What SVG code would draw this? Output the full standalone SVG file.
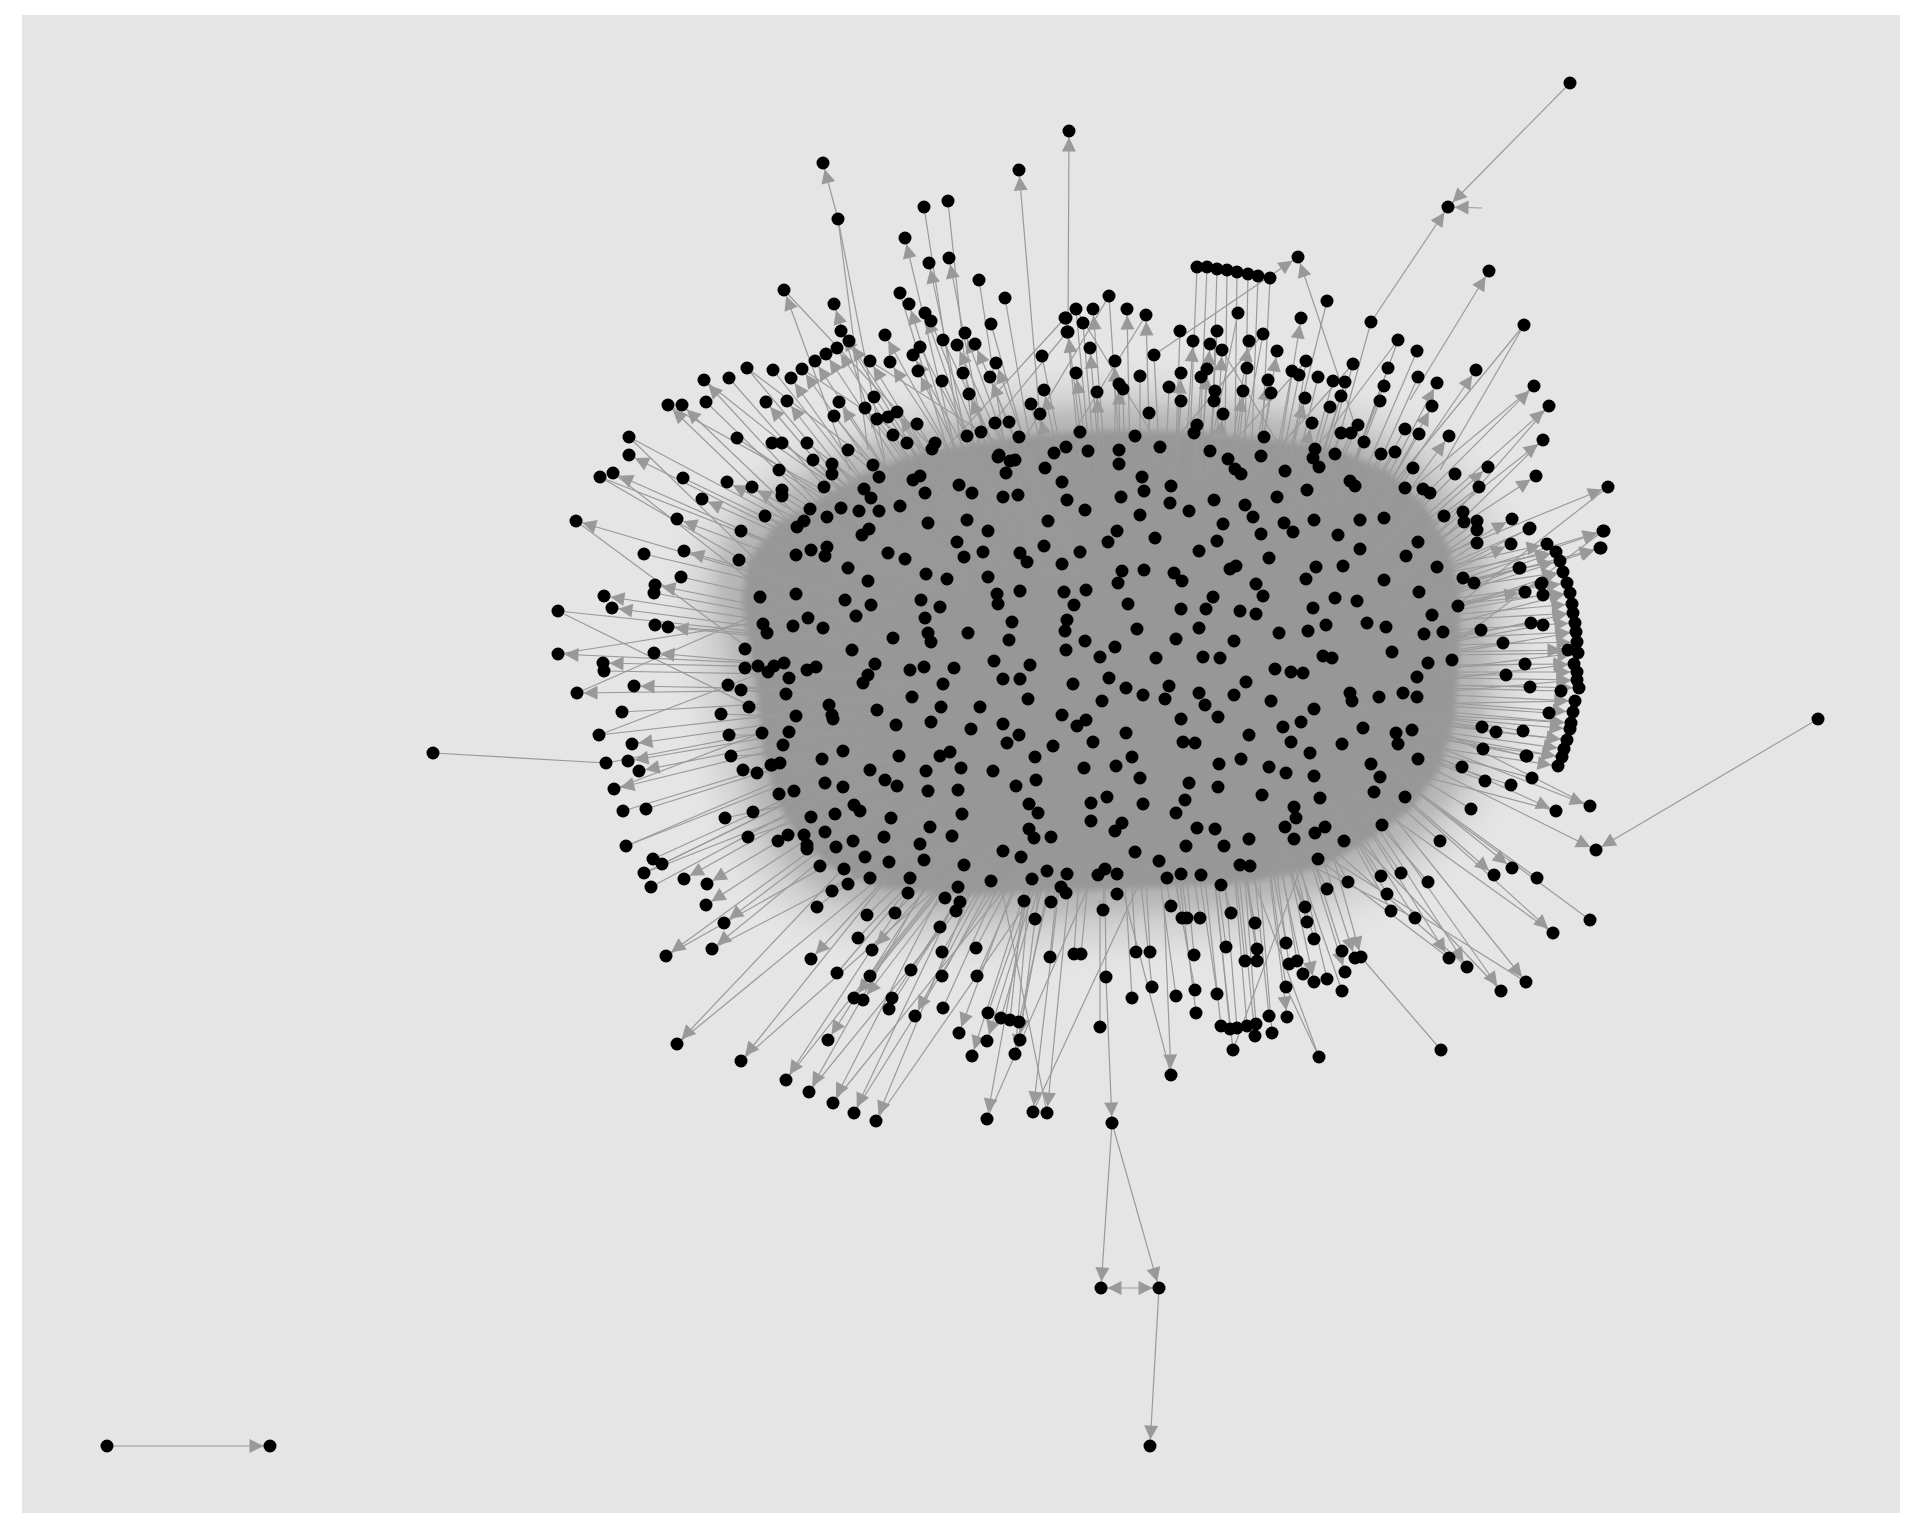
<svg xmlns="http://www.w3.org/2000/svg" width="1920" height="1536" viewBox="0 0 1920 1536">
<defs>
<marker id="ar" markerUnits="userSpaceOnUse" markerWidth="14" markerHeight="14" refX="20.5" refY="0" orient="auto-start-reverse" overflow="visible"><path d="M0,-7L14,0L0,7z" fill="#999"/></marker>
<filter id="b1" x="-20%" y="-20%" width="140%" height="140%"><feGaussianBlur stdDeviation="16"/></filter>
<filter id="b2" x="-20%" y="-20%" width="140%" height="140%"><feGaussianBlur stdDeviation="9"/></filter>
<filter id="b3" x="-10%" y="-10%" width="120%" height="120%"><feGaussianBlur stdDeviation="3"/></filter>
</defs>
<style>
.e line{stroke:#9a9a9a;stroke-width:1.2;fill:none}
.ea line{stroke:#9a9a9a;stroke-width:1.2;fill:none;marker-end:url(#ar)}
.nd circle{fill:#000}
</style>
<rect width="1920" height="1536" fill="#fff"/>
<rect x="22" y="15" width="1878" height="1498" fill="#e5e5e5"/>
<g id="core">
<polygon filter="url(#b1)" points="690,600 700,545 735,500 790,462 850,432 915,410 980,398 1040,390 1110,385 1200,388 1285,395 1360,410 1425,438 1470,480 1500,535 1515,595 1515,665 1505,730 1485,795 1445,848 1395,885 1330,915 1250,935 1150,940 1060,944 960,946 870,940 800,915 755,875 730,825 715,765 705,700" fill="#999" opacity="0.3"/>
<polygon filter="url(#b2)" points="715,600 722,550 752,510 805,478 860,450 918,430 980,420 1040,412 1110,408 1200,410 1282,418 1350,432 1408,458 1448,498 1475,545 1488,595 1488,660 1480,725 1462,780 1428,828 1382,862 1322,890 1250,906 1150,910 1060,914 960,916 872,910 815,888 778,855 755,810 744,760 738,700 728,645" fill="#999" opacity="0.45"/>
<polygon filter="url(#b3)" points="742,600 748,560 775,525 820,498 870,470 920,452 980,442 1040,434 1110,430 1200,432 1280,440 1340,450 1390,472 1425,505 1448,545 1460,595 1460,650 1455,720 1440,770 1410,810 1370,840 1320,868 1250,883 1150,888 1060,892 960,895 880,888 832,868 798,838 775,798 763,750 757,695 748,640" fill="#979797"/>
</g>
<g id="edges">
<g class="e">
<line x1="838" y1="219" x2="868" y2="450"/><line x1="838" y1="219" x2="885" y2="460"/>
<line x1="948" y1="201" x2="975" y2="460"/><line x1="924" y1="207" x2="965" y2="470"/>
<line x1="979" y1="280" x2="1010" y2="480"/><line x1="1005" y1="298" x2="1035" y2="470"/>
<line x1="900" y1="293" x2="960" y2="490"/><line x1="931" y1="321" x2="1000" y2="495"/>
<line x1="991" y1="324" x2="1040" y2="497"/><line x1="773" y1="370" x2="900" y2="530"/>
<line x1="747" y1="368" x2="890" y2="540"/><line x1="729" y1="378" x2="880" y2="550"/>
<line x1="706" y1="402" x2="880" y2="570"/><line x1="920" y1="347" x2="1010" y2="520"/>
<line x1="943" y1="340" x2="1030" y2="520"/><line x1="1042" y1="356" x2="1075" y2="520"/>
<line x1="1065" y1="318" x2="880" y2="520"/><line x1="1067" y1="332" x2="905" y2="530"/>
<line x1="942" y1="381" x2="1025" y2="560"/><line x1="963" y1="373" x2="1035" y2="545"/>
<line x1="1031" y1="404" x2="1070" y2="570"/><line x1="874" y1="397" x2="990" y2="560"/>
<line x1="834" y1="416" x2="970" y2="580"/><line x1="877" y1="419" x2="995" y2="580"/>
<line x1="888" y1="417" x2="1000" y2="575"/><line x1="917" y1="424" x2="1015" y2="580"/>
<line x1="893" y1="435" x2="1000" y2="590"/><line x1="907" y1="443" x2="1010" y2="595"/>
<line x1="932" y1="449" x2="1020" y2="590"/><line x1="967" y1="436" x2="1040" y2="585"/>
<line x1="981" y1="432" x2="1045" y2="580"/><line x1="995" y1="423" x2="1055" y2="575"/>
<line x1="1009" y1="422" x2="1060" y2="570"/><line x1="998" y1="457" x2="1055" y2="600"/>
<line x1="1010" y1="461" x2="1060" y2="600"/><line x1="1054" y1="453" x2="1080" y2="590"/>
<line x1="629" y1="437" x2="860" y2="560"/><line x1="600" y1="477" x2="850" y2="575"/>
<line x1="737" y1="438" x2="920" y2="560"/><line x1="772" y1="443" x2="940" y2="560"/>
<line x1="782" y1="443" x2="945" y2="565"/><line x1="807" y1="443" x2="960" y2="560"/>
<line x1="848" y1="450" x2="980" y2="565"/><line x1="813" y1="460" x2="960" y2="575"/>
<line x1="832" y1="464" x2="970" y2="575"/><line x1="779" y1="470" x2="945" y2="580"/>
<line x1="683" y1="478" x2="895" y2="580"/><line x1="782" y1="490" x2="945" y2="590"/>
<line x1="782" y1="496" x2="945" y2="595"/><line x1="824" y1="487" x2="965" y2="590"/>
<line x1="832" y1="474" x2="970" y2="585"/><line x1="873" y1="465" x2="990" y2="580"/>
<line x1="879" y1="477" x2="995" y2="585"/><line x1="741" y1="531" x2="925" y2="600"/>
<line x1="765" y1="516" x2="940" y2="595"/><line x1="644" y1="554" x2="880" y2="610"/>
<line x1="739" y1="560" x2="925" y2="615"/><line x1="681" y1="577" x2="895" y2="625"/>
<line x1="654" y1="593" x2="880" y2="635"/><line x1="558" y1="611" x2="835" y2="640"/>
<line x1="655" y1="625" x2="880" y2="645"/><line x1="797" y1="527" x2="950" y2="600"/>
<line x1="804" y1="521" x2="955" y2="595"/><line x1="827" y1="517" x2="970" y2="595"/>
<line x1="841" y1="508" x2="975" y2="590"/><line x1="859" y1="511" x2="985" y2="590"/>
<line x1="871" y1="498" x2="990" y2="585"/>
<line x1="1197" y1="267" x2="1190" y2="440"/><line x1="1207" y1="267" x2="1200" y2="440"/>
<line x1="1217" y1="269" x2="1212" y2="440"/><line x1="1227" y1="270" x2="1225" y2="440"/>
<line x1="1237" y1="272" x2="1235" y2="440"/><line x1="1248" y1="274" x2="1245" y2="440"/>
<line x1="1258" y1="276" x2="1252" y2="440"/><line x1="1270" y1="278" x2="1262" y2="440"/>
<line x1="1327" y1="301" x2="1290" y2="450"/><line x1="1371" y1="322" x2="1330" y2="470"/>
<line x1="1524" y1="325" x2="1440" y2="470"/><line x1="1238" y1="313" x2="1210" y2="450"/>
<line x1="1263" y1="334" x2="1240" y2="460"/><line x1="1306" y1="361" x2="1290" y2="470"/>
<line x1="1109" y1="296" x2="1120" y2="460"/><line x1="1076" y1="309" x2="1090" y2="460"/>
<line x1="1066" y1="318" x2="1080" y2="460"/><line x1="1083" y1="323" x2="1095" y2="470"/>
<line x1="1154" y1="355" x2="1160" y2="470"/><line x1="1180" y1="331" x2="1175" y2="470"/>
<line x1="1217" y1="331" x2="1210" y2="460"/><line x1="1201" y1="377" x2="1195" y2="480"/>
<line x1="1169" y1="387" x2="1165" y2="480"/><line x1="1140" y1="376" x2="1140" y2="480"/>
<line x1="1123" y1="389" x2="1125" y2="490"/><line x1="1247" y1="368" x2="1235" y2="480"/>
<line x1="1215" y1="391" x2="1205" y2="490"/><line x1="1214" y1="401" x2="1205" y2="495"/>
<line x1="1181" y1="401" x2="1175" y2="495"/><line x1="1149" y1="413" x2="1150" y2="500"/>
<line x1="1197" y1="425" x2="1190" y2="505"/><line x1="1271" y1="393" x2="1255" y2="495"/>
<line x1="1292" y1="371" x2="1270" y2="490"/><line x1="1299" y1="375" x2="1275" y2="495"/>
<line x1="1318" y1="377" x2="1290" y2="495"/><line x1="1333" y1="381" x2="1300" y2="500"/>
<line x1="1345" y1="382" x2="1310" y2="500"/><line x1="1341" y1="396" x2="1305" y2="505"/>
<line x1="1330" y1="407" x2="1300" y2="510"/><line x1="1353" y1="364" x2="1315" y2="495"/>
<line x1="1388" y1="368" x2="1340" y2="500"/><line x1="1398" y1="340" x2="1345" y2="490"/>
<line x1="1417" y1="351" x2="1355" y2="495"/><line x1="1418" y1="377" x2="1360" y2="505"/>
<line x1="1384" y1="386" x2="1335" y2="510"/><line x1="1380" y1="401" x2="1335" y2="515"/>
<line x1="1455" y1="474" x2="1380" y2="550"/><line x1="1479" y1="487" x2="1390" y2="555"/>
<line x1="1529" y1="529" x2="1425" y2="575"/><line x1="1519" y1="568" x2="1425" y2="595"/>
<line x1="1405" y1="429" x2="1350" y2="530"/><line x1="1419" y1="434" x2="1360" y2="535"/>
<line x1="1364" y1="442" x2="1320" y2="530"/><line x1="1358" y1="425" x2="1315" y2="520"/>
<line x1="1351" y1="433" x2="1310" y2="525"/><line x1="1341" y1="433" x2="1300" y2="525"/>
<line x1="1335" y1="454" x2="1295" y2="535"/><line x1="1313" y1="458" x2="1280" y2="540"/>
<line x1="1381" y1="454" x2="1335" y2="540"/><line x1="1395" y1="452" x2="1345" y2="540"/>
<line x1="1413" y1="468" x2="1355" y2="550"/><line x1="1423" y1="489" x2="1360" y2="560"/>
<line x1="1430" y1="493" x2="1365" y2="565"/><line x1="1444" y1="516" x2="1380" y2="575"/>
<line x1="1463" y1="512" x2="1390" y2="575"/><line x1="1464" y1="522" x2="1390" y2="580"/>
<line x1="1477" y1="521" x2="1400" y2="580"/><line x1="1477" y1="530" x2="1400" y2="585"/>
<line x1="1477" y1="543" x2="1400" y2="595"/><line x1="1463" y1="578" x2="1395" y2="610"/>
<line x1="1474" y1="583" x2="1400" y2="612"/><line x1="1542" y1="583" x2="1430" y2="610"/>
<line x1="1543" y1="595" x2="1430" y2="615"/>
<line x1="1530" y1="528" x2="1420" y2="585"/><line x1="1520" y1="568" x2="1420" y2="605"/>
<line x1="1541" y1="584" x2="1430" y2="615"/><line x1="1531" y1="623" x2="1430" y2="640"/>
<line x1="1543" y1="625" x2="1435" y2="645"/><line x1="1503" y1="643" x2="1420" y2="655"/>
<line x1="1525" y1="664" x2="1430" y2="668"/><line x1="1506" y1="675" x2="1420" y2="675"/>
<line x1="1530" y1="687" x2="1430" y2="685"/><line x1="1561" y1="691" x2="1440" y2="688"/>
<line x1="1549" y1="713" x2="1435" y2="705"/><line x1="1523" y1="731" x2="1425" y2="715"/>
<line x1="1527" y1="756" x2="1425" y2="735"/><line x1="1532" y1="778" x2="1425" y2="750"/>
<line x1="1511" y1="785" x2="1415" y2="755"/>
<line x1="1590" y1="920" x2="1400" y2="780"/><line x1="1537" y1="878" x2="1395" y2="775"/>
<line x1="1441" y1="1050" x2="1361" y2="957"/><line x1="1415" y1="918" x2="1340" y2="800"/>
<line x1="1391" y1="911" x2="1330" y2="800"/><line x1="1387" y1="894" x2="1330" y2="795"/>
<line x1="1428" y1="882" x2="1350" y2="790"/><line x1="1440" y1="841" x2="1370" y2="780"/>
<line x1="1471" y1="809" x2="1390" y2="760"/><line x1="1485" y1="781" x2="1400" y2="750"/>
<line x1="1526" y1="756" x2="1420" y2="730"/><line x1="1483" y1="749" x2="1400" y2="725"/>
<line x1="1462" y1="767" x2="1390" y2="740"/><line x1="1482" y1="727" x2="1400" y2="715"/>
<line x1="1496" y1="732" x2="1410" y2="715"/><line x1="1481" y1="630" x2="1410" y2="640"/>
<line x1="1100" y1="1027" x2="1100" y2="900"/><line x1="1106" y1="977" x2="1105" y2="880"/>
<line x1="1132" y1="998" x2="1125" y2="880"/><line x1="1152" y1="987" x2="1140" y2="875"/>
<line x1="1176" y1="996" x2="1160" y2="880"/><line x1="1195" y1="990" x2="1175" y2="880"/>
<line x1="1196" y1="1013" x2="1180" y2="885"/><line x1="1217" y1="994" x2="1200" y2="880"/>
<line x1="1233" y1="1050" x2="1215" y2="885"/><line x1="1319" y1="1057" x2="1286" y2="987"/>
<line x1="1221" y1="1026" x2="1205" y2="880"/><line x1="1230" y1="1029" x2="1215" y2="880"/>
<line x1="1237" y1="1028" x2="1225" y2="880"/><line x1="1247" y1="1026" x2="1235" y2="880"/>
<line x1="1256" y1="1024" x2="1245" y2="880"/><line x1="1269" y1="1016" x2="1255" y2="880"/>
<line x1="1272" y1="1033" x2="1260" y2="885"/><line x1="1255" y1="1036" x2="1240" y2="885"/>
<line x1="1286" y1="987" x2="1270" y2="870"/><line x1="1342" y1="991" x2="1300" y2="870"/>
<line x1="1327" y1="979" x2="1300" y2="865"/><line x1="1303" y1="974" x2="1280" y2="865"/>
<line x1="1289" y1="964" x2="1275" y2="860"/><line x1="1297" y1="961" x2="1280" y2="858"/>
<line x1="1342" y1="951" x2="1310" y2="850"/><line x1="1314" y1="939" x2="1290" y2="850"/>
<line x1="1286" y1="943" x2="1270" y2="855"/><line x1="1257" y1="949" x2="1245" y2="860"/>
<line x1="1257" y1="961" x2="1245" y2="865"/><line x1="1245" y1="961" x2="1235" y2="865"/>
<line x1="1226" y1="947" x2="1215" y2="860"/><line x1="1194" y1="955" x2="1185" y2="860"/>
<line x1="1150" y1="952" x2="1145" y2="860"/><line x1="1136" y1="952" x2="1130" y2="860"/>
<line x1="1074" y1="954" x2="1080" y2="860"/><line x1="1081" y1="954" x2="1090" y2="860"/>
<line x1="1103" y1="910" x2="1105" y2="850"/><line x1="1117" y1="894" x2="1120" y2="845"/>
<line x1="1066" y1="893" x2="1075" y2="845"/><line x1="1171" y1="906" x2="1160" y2="850"/>
<line x1="1182" y1="918" x2="1170" y2="850"/><line x1="1187" y1="918" x2="1178" y2="850"/>
<line x1="1200" y1="918" x2="1190" y2="850"/><line x1="1231" y1="913" x2="1215" y2="850"/>
<line x1="1255" y1="923" x2="1240" y2="850"/><line x1="1305" y1="907" x2="1280" y2="845"/>
<line x1="1307" y1="922" x2="1285" y2="850"/><line x1="1327" y1="889" x2="1300" y2="835"/>
<line x1="1348" y1="882" x2="1320" y2="830"/><line x1="1381" y1="876" x2="1345" y2="820"/>
<line x1="1401" y1="873" x2="1360" y2="815"/><line x1="1050" y1="957" x2="1060" y2="860"/>
<line x1="1035" y1="919" x2="1050" y2="850"/><line x1="1015" y1="1054" x2="1030" y2="880"/>
<line x1="1010" y1="1020" x2="1025" y2="880"/>
<line x1="604" y1="671" x2="820" y2="675"/><line x1="622" y1="712" x2="830" y2="700"/>
<line x1="599" y1="735" x2="820" y2="710"/><line x1="606" y1="763" x2="830" y2="720"/>
<line x1="433" y1="753" x2="606" y2="763"/>
<line x1="623" y1="811" x2="840" y2="745"/><line x1="646" y1="809" x2="850" y2="745"/>
<line x1="626" y1="846" x2="845" y2="760"/><line x1="653" y1="859" x2="860" y2="765"/>
<line x1="662" y1="864" x2="865" y2="765"/><line x1="644" y1="873" x2="855" y2="770"/>
<line x1="651" y1="887" x2="860" y2="775"/><line x1="817" y1="907" x2="930" y2="820"/>
<line x1="837" y1="973" x2="950" y2="840"/><line x1="858" y1="938" x2="960" y2="830"/>
<line x1="870" y1="976" x2="970" y2="850"/><line x1="892" y1="998" x2="985" y2="860"/>
<line x1="889" y1="1009" x2="980" y2="865"/><line x1="911" y1="970" x2="990" y2="850"/>
<line x1="942" y1="976" x2="1010" y2="850"/><line x1="943" y1="1008" x2="1010" y2="860"/>
<line x1="942" y1="952" x2="1005" y2="845"/><line x1="940" y1="927" x2="1000" y2="840"/>
<line x1="976" y1="948" x2="1030" y2="845"/><line x1="977" y1="976" x2="1030" y2="855"/>
<line x1="988" y1="1013" x2="1040" y2="865"/><line x1="1001" y1="1018" x2="1045" y2="865"/>
<line x1="1019" y1="1022" x2="1055" y2="865"/><line x1="1024" y1="901" x2="1060" y2="840"/>
<line x1="1051" y1="902" x2="1075" y2="840"/><line x1="867" y1="915" x2="960" y2="825"/>
<line x1="895" y1="913" x2="980" y2="825"/><line x1="960" y1="902" x2="1020" y2="830"/>
<line x1="956" y1="911" x2="1015" y2="835"/><line x1="945" y1="898" x2="1010" y2="830"/>
<line x1="908" y1="893" x2="985" y2="820"/><line x1="848" y1="884" x2="950" y2="815"/>
<line x1="832" y1="891" x2="940" y2="815"/><line x1="820" y1="866" x2="930" y2="805"/>
<line x1="836" y1="847" x2="940" y2="800"/><line x1="825" y1="832" x2="930" y2="795"/>
<line x1="778" y1="841" x2="910" y2="790"/><line x1="788" y1="835" x2="915" y2="790"/>
<line x1="804" y1="835" x2="925" y2="785"/><line x1="807" y1="849" x2="925" y2="795"/>
<line x1="748" y1="837" x2="890" y2="790"/><line x1="753" y1="812" x2="900" y2="780"/>
<line x1="725" y1="818" x2="880" y2="785"/><line x1="779" y1="794" x2="910" y2="770"/>
<line x1="731" y1="756" x2="885" y2="750"/><line x1="743" y1="770" x2="890" y2="760"/>
<line x1="757" y1="773" x2="900" y2="760"/><line x1="772" y1="765" x2="905" y2="755"/>
<line x1="780" y1="763" x2="910" y2="755"/><line x1="721" y1="714" x2="880" y2="720"/>
<line x1="749" y1="707" x2="895" y2="715"/><line x1="728" y1="685" x2="885" y2="700"/>
<line x1="741" y1="690" x2="890" y2="705"/><line x1="762" y1="733" x2="900" y2="735"/>
<line x1="729" y1="735" x2="885" y2="735"/><line x1="784" y1="663" x2="915" y2="690"/>
<line x1="745" y1="649" x2="900" y2="670"/><line x1="745" y1="668" x2="900" y2="680"/>
<line x1="768" y1="672" x2="910" y2="685"/><line x1="758" y1="666" x2="905" y2="680"/>
<line x1="629" y1="437" x2="900" y2="700"/><line x1="613" y1="473" x2="930" y2="720"/>
<line x1="600" y1="477" x2="880" y2="640"/><line x1="576" y1="521" x2="900" y2="760"/>
<line x1="558" y1="611" x2="880" y2="770"/><line x1="558" y1="654" x2="900" y2="600"/>
<line x1="577" y1="693" x2="880" y2="560"/><line x1="599" y1="735" x2="900" y2="620"/>
<line x1="614" y1="789" x2="900" y2="680"/><line x1="626" y1="846" x2="920" y2="720"/>
<line x1="644" y1="873" x2="930" y2="760"/><line x1="666" y1="956" x2="960" y2="790"/>
<line x1="712" y1="949" x2="1000" y2="800"/><line x1="741" y1="1061" x2="980" y2="850"/>
<line x1="677" y1="1044" x2="950" y2="820"/><line x1="784" y1="290" x2="1000" y2="520"/>
<line x1="704" y1="380" x2="980" y2="600"/><line x1="668" y1="405" x2="950" y2="560"/>
<line x1="747" y1="368" x2="1000" y2="560"/><line x1="802" y1="369" x2="1060" y2="540"/>
<line x1="870" y1="361" x2="1120" y2="520"/><line x1="1109" y1="296" x2="1000" y2="480"/>
<line x1="1076" y1="309" x2="1180" y2="480"/><line x1="1146" y1="315" x2="1050" y2="470"/>
<line x1="1222" y1="350" x2="1300" y2="480"/><line x1="1263" y1="334" x2="1150" y2="470"/>
<line x1="1306" y1="361" x2="1200" y2="480"/><line x1="1353" y1="364" x2="1250" y2="480"/>
<line x1="1398" y1="340" x2="1300" y2="470"/><line x1="1524" y1="325" x2="1380" y2="500"/>
<line x1="1534" y1="386" x2="1350" y2="540"/><line x1="1549" y1="406" x2="1380" y2="600"/>
<line x1="1543" y1="440" x2="1360" y2="620"/><line x1="1608" y1="487" x2="1400" y2="650"/>
<line x1="1603" y1="531" x2="1380" y2="700"/><line x1="1590" y1="806" x2="1380" y2="700"/>
<line x1="1556" y1="811" x2="1360" y2="760"/><line x1="1553" y1="933" x2="1340" y2="780"/>
<line x1="1526" y1="982" x2="1300" y2="840"/><line x1="1501" y1="991" x2="1320" y2="800"/>
<line x1="1467" y1="967" x2="1300" y2="820"/><line x1="1449" y1="958" x2="1280" y2="830"/>
<line x1="1415" y1="918" x2="1260" y2="840"/><line x1="876" y1="1121" x2="1050" y2="870"/>
<line x1="854" y1="1113" x2="1000" y2="880"/><line x1="833" y1="1103" x2="1020" y2="870"/>
<line x1="809" y1="1092" x2="990" y2="870"/><line x1="786" y1="1080" x2="960" y2="860"/>
<line x1="987" y1="1119" x2="1100" y2="860"/><line x1="1033" y1="1112" x2="1150" y2="860"/>
<line x1="1047" y1="1113" x2="1000" y2="880"/><line x1="1233" y1="1050" x2="1300" y2="870"/>
<line x1="1319" y1="1057" x2="1250" y2="870"/><line x1="1171" y1="1075" x2="1120" y2="880"/>
</g>
<g class="ea">
<line x1="107" y1="1446" x2="270" y2="1446"/>
<line x1="1570" y1="83" x2="1448" y2="207"/><line x1="1371" y1="322" x2="1448" y2="207"/>
<line x1="1482" y1="208" x2="1448" y2="207"/>
<line x1="1818" y1="719" x2="1596" y2="850"/><line x1="1415" y1="760" x2="1596" y2="850"/>
<line x1="1068" y1="330" x2="1069" y2="131"/>
<line x1="1106" y1="977" x2="1112" y2="1123"/>
<line x1="1112" y1="1123" x2="1101" y2="1288"/><line x1="1112" y1="1123" x2="1159" y2="1288"/>
<line x1="1101" y1="1288" x2="1159" y2="1288" style="marker-start:url(#ar)"/>
<line x1="1159" y1="1288" x2="1150" y2="1446"/>
<line x1="1164" y1="905" x2="1171" y2="1075"/>
<line x1="838" y1="219" x2="823" y2="163"/>
<line x1="1045" y1="480" x2="1019" y2="170"/>
<line x1="960" y1="470" x2="905" y2="238"/><line x1="975" y1="480" x2="929" y2="263"/>
<line x1="990" y1="470" x2="949" y2="258"/><line x1="850" y1="470" x2="784" y2="290"/>
<line x1="890" y1="480" x2="834" y2="304"/><line x1="970" y1="500" x2="909" y2="304"/>
<line x1="990" y1="500" x2="925" y2="313"/><line x1="1030" y1="510" x2="965" y2="333"/>
<line x1="980" y1="505" x2="885" y2="335"/><line x1="950" y1="510" x2="841" y2="331"/>
<line x1="965" y1="520" x2="849" y2="341"/><line x1="955" y1="530" x2="837" y2="348"/>
<line x1="945" y1="535" x2="826" y2="354"/><line x1="935" y1="545" x2="815" y2="361"/>
<line x1="930" y1="550" x2="802" y2="369"/><line x1="920" y1="560" x2="791" y2="378"/>
<line x1="870" y1="560" x2="704" y2="380"/><line x1="860" y1="575" x2="682" y2="405"/>
<line x1="850" y1="580" x2="668" y2="405"/><line x1="900" y1="560" x2="766" y2="402"/>
<line x1="915" y1="565" x2="787" y2="401"/><line x1="945" y1="560" x2="839" y2="402"/>
<line x1="980" y1="540" x2="870" y2="361"/><line x1="1000" y1="530" x2="890" y2="362"/>
<line x1="1015" y1="540" x2="913" y2="355"/><line x1="1040" y1="530" x2="957" y2="345"/>
<line x1="1050" y1="520" x2="975" y2="344"/><line x1="1060" y1="540" x2="996" y2="363"/>
<line x1="1055" y1="545" x2="990" y2="377"/><line x1="1010" y1="560" x2="918" y2="371"/>
<line x1="1040" y1="560" x2="969" y2="394"/><line x1="1080" y1="560" x2="1044" y2="390"/>
<line x1="1075" y1="580" x2="1040" y2="414"/><line x1="985" y1="570" x2="865" y2="408"/>
<line x1="1005" y1="570" x2="897" y2="412"/><line x1="860" y1="570" x2="629" y2="455"/>
<line x1="855" y1="580" x2="613" y2="473"/><line x1="920" y1="585" x2="727" y2="482"/>
<line x1="930" y1="590" x2="752" y2="487"/><line x1="905" y1="590" x2="702" y2="499"/>
<line x1="845" y1="600" x2="576" y2="521"/><line x1="895" y1="600" x2="677" y2="519"/>
<line x1="895" y1="610" x2="684" y2="551"/><line x1="880" y1="630" x2="655" y2="585"/>
<line x1="860" y1="635" x2="604" y2="596"/><line x1="860" y1="640" x2="612" y2="608"/>
<line x1="890" y1="650" x2="668" y2="627"/>
<line x1="1154" y1="355" x2="1298" y2="257"/><line x1="1360" y1="440" x2="1298" y2="257"/>
<line x1="1410" y1="400" x2="1489" y2="271"/><line x1="1280" y1="450" x2="1301" y2="318"/>
<line x1="1230" y1="460" x2="1249" y2="341"/><line x1="1260" y1="460" x2="1277" y2="351"/>
<line x1="1105" y1="460" x2="1093" y2="309"/><line x1="1130" y1="460" x2="1127" y2="309"/>
<line x1="1150" y1="460" x2="1146" y2="315"/><line x1="1085" y1="470" x2="1068" y2="332"/>
<line x1="1100" y1="470" x2="1090" y2="348"/><line x1="1115" y1="470" x2="1115" y2="361"/>
<line x1="1185" y1="470" x2="1193" y2="341"/><line x1="1200" y1="470" x2="1210" y2="344"/>
<line x1="1215" y1="470" x2="1222" y2="350"/><line x1="1200" y1="480" x2="1207" y2="369"/>
<line x1="1175" y1="480" x2="1181" y2="373"/><line x1="1120" y1="480" x2="1119" y2="384"/>
<line x1="1100" y1="490" x2="1097" y2="392"/><line x1="1090" y1="480" x2="1076" y2="373"/>
<line x1="1230" y1="490" x2="1243" y2="391"/><line x1="1210" y1="500" x2="1223" y2="414"/>
<line x1="1250" y1="490" x2="1268" y2="380"/><line x1="1280" y1="500" x2="1305" y2="398"/>
<line x1="1290" y1="510" x2="1312" y2="423"/><line x1="1380" y1="510" x2="1476" y2="370"/>
<line x1="1370" y1="510" x2="1437" y2="383"/><line x1="1370" y1="520" x2="1432" y2="406"/>
<line x1="1400" y1="520" x2="1534" y2="386"/><line x1="1410" y1="530" x2="1549" y2="406"/>
<line x1="1410" y1="545" x2="1543" y2="440"/><line x1="1415" y1="555" x2="1536" y2="476"/>
<line x1="1430" y1="560" x2="1608" y2="487"/><line x1="1440" y1="580" x2="1603" y2="531"/>
<line x1="1440" y1="590" x2="1600" y2="548"/><line x1="1380" y1="530" x2="1449" y2="436"/>
<line x1="1400" y1="545" x2="1488" y2="467"/><line x1="1420" y1="570" x2="1512" y2="519"/>
<line x1="1420" y1="585" x2="1511" y2="544"/><line x1="1420" y1="610" x2="1525" y2="592"/>
<line x1="1430" y1="590" x2="1604" y2="531"/><line x1="1435" y1="600" x2="1601" y2="548"/>
<line x1="1430" y1="570" x2="1547" y2="544"/><line x1="1435" y1="575" x2="1556" y2="552"/>
<line x1="1440" y1="585" x2="1560" y2="561"/><line x1="1440" y1="590" x2="1563" y2="572"/>
<line x1="1445" y1="600" x2="1567" y2="583"/><line x1="1445" y1="605" x2="1570" y2="593"/>
<line x1="1448" y1="615" x2="1572" y2="604"/><line x1="1450" y1="620" x2="1573" y2="613"/>
<line x1="1450" y1="630" x2="1575" y2="623"/><line x1="1452" y1="638" x2="1576" y2="632"/>
<line x1="1452" y1="645" x2="1577" y2="642"/><line x1="1452" y1="655" x2="1578" y2="653"/>
<line x1="1450" y1="652" x2="1568" y2="650"/><line x1="1452" y1="665" x2="1574" y2="664"/>
<line x1="1452" y1="672" x2="1577" y2="672"/><line x1="1452" y1="678" x2="1577" y2="680"/>
<line x1="1452" y1="685" x2="1579" y2="688"/><line x1="1450" y1="695" x2="1575" y2="701"/>
<line x1="1450" y1="703" x2="1573" y2="712"/><line x1="1448" y1="712" x2="1571" y2="723"/>
<line x1="1447" y1="718" x2="1570" y2="729"/><line x1="1445" y1="725" x2="1567" y2="740"/>
<line x1="1442" y1="732" x2="1564" y2="749"/><line x1="1440" y1="740" x2="1562" y2="757"/>
<line x1="1438" y1="748" x2="1558" y2="766"/>
<line x1="1360" y1="620" x2="1556" y2="552"/><line x1="1360" y1="640" x2="1563" y2="572"/>
<line x1="1350" y1="650" x2="1570" y2="593"/><line x1="1350" y1="660" x2="1573" y2="613"/>
<line x1="1350" y1="670" x2="1576" y2="632"/><line x1="1350" y1="680" x2="1578" y2="653"/>
<line x1="1350" y1="690" x2="1574" y2="664"/><line x1="1350" y1="700" x2="1577" y2="680"/>
<line x1="1350" y1="705" x2="1575" y2="701"/><line x1="1350" y1="710" x2="1571" y2="723"/>
<line x1="1350" y1="715" x2="1567" y2="740"/><line x1="1350" y1="720" x2="1562" y2="757"/>
<line x1="1420" y1="740" x2="1590" y2="806"/><line x1="1410" y1="745" x2="1556" y2="811"/>
<line x1="1395" y1="790" x2="1553" y2="933"/><line x1="1390" y1="770" x2="1512" y2="868"/>
<line x1="1380" y1="775" x2="1494" y2="875"/><line x1="1380" y1="800" x2="1526" y2="982"/>
<line x1="1370" y1="805" x2="1501" y2="991"/><line x1="1360" y1="800" x2="1467" y2="967"/>
<line x1="1350" y1="800" x2="1449" y2="958"/>
<line x1="1270" y1="880" x2="1287" y2="1017"/><line x1="1290" y1="870" x2="1314" y2="982"/>
<line x1="1310" y1="860" x2="1345" y2="972"/><line x1="1320" y1="850" x2="1355" y2="958"/>
<line x1="1330" y1="845" x2="1361" y2="957"/><line x1="1040" y1="880" x2="1020" y2="1040"/>
<line x1="800" y1="665" x2="558" y2="654"/><line x1="820" y1="668" x2="603" y2="663"/>
<line x1="810" y1="690" x2="577" y2="693"/><line x1="830" y1="690" x2="634" y2="686"/>
<line x1="835" y1="715" x2="632" y2="744"/><line x1="840" y1="725" x2="628" y2="761"/>
<line x1="845" y1="730" x2="639" y2="771"/><line x1="835" y1="735" x2="614" y2="789"/>
<line x1="880" y1="770" x2="684" y2="879"/><line x1="890" y1="775" x2="707" y2="884"/>
<line x1="890" y1="785" x2="706" y2="905"/><line x1="900" y1="790" x2="724" y2="923"/>
<line x1="895" y1="800" x2="712" y2="949"/><line x1="880" y1="800" x2="666" y2="956"/>
<line x1="870" y1="840" x2="677" y2="1044"/><line x1="910" y1="850" x2="741" y2="1061"/>
<line x1="930" y1="860" x2="786" y2="1080"/><line x1="940" y1="860" x2="809" y2="1092"/>
<line x1="955" y1="865" x2="833" y2="1103"/><line x1="970" y1="870" x2="854" y2="1113"/>
<line x1="980" y1="870" x2="876" y2="1121"/><line x1="1030" y1="880" x2="987" y2="1119"/>
<line x1="1060" y1="880" x2="1033" y2="1112"/><line x1="1070" y1="880" x2="1047" y2="1113"/>
<line x1="930" y1="830" x2="811" y2="959"/><line x1="950" y1="850" x2="828" y2="1040"/>
<line x1="970" y1="840" x2="872" y2="950"/><line x1="965" y1="860" x2="854" y2="998"/>
<line x1="970" y1="860" x2="863" y2="1000"/><line x1="995" y1="865" x2="915" y2="1016"/>
<line x1="1020" y1="870" x2="959" y2="1033"/><line x1="1030" y1="875" x2="972" y2="1056"/>
<line x1="1040" y1="870" x2="987" y2="1041"/><line x1="1050" y1="875" x2="1015" y2="1055"/>
<line x1="850" y1="670" x2="654" y2="653"/>
</g>
</g>
<g id="nodes" class="nd">
<g id="n1"><circle cx="107" cy="1446" r="6.5"/></g>
<g id="n2"><circle cx="270" cy="1446" r="6.5"/></g>
<g id="n3"><circle cx="433" cy="753" r="6.5"/></g>
<g id="n4"><circle cx="1570" cy="83" r="6.5"/></g>
<g id="n5"><circle cx="1448" cy="207" r="6.5"/></g>
<g id="n6"><circle cx="1818" cy="719" r="6.5"/></g>
<g id="n7"><circle cx="1069" cy="131" r="6.5"/></g>
<g id="n8"><circle cx="1112" cy="1123" r="6.5"/></g>
<g id="n9"><circle cx="1101" cy="1288" r="6.5"/></g>
<g id="n10"><circle cx="1159" cy="1288" r="6.5"/></g>
<g id="n11"><circle cx="1150" cy="1446" r="6.5"/></g>
<g id="n12"><circle cx="823" cy="163" r="6.5"/></g>
<g id="n13"><circle cx="1019" cy="170" r="6.5"/></g>
<g id="n14"><circle cx="948" cy="201" r="6.5"/></g>
<g id="n15"><circle cx="924" cy="207" r="6.5"/></g>
<g id="n16"><circle cx="838" cy="219" r="6.5"/></g>
<g id="n17"><circle cx="905" cy="238" r="6.5"/></g>
<g id="n18"><circle cx="929" cy="263" r="6.5"/></g>
<g id="n19"><circle cx="949" cy="258" r="6.5"/></g>
<g id="n20"><circle cx="979" cy="280" r="6.5"/></g>
<g id="n21"><circle cx="1005" cy="298" r="6.5"/></g>
<g id="n22"><circle cx="784" cy="290" r="6.5"/></g>
<g id="n23"><circle cx="834" cy="304" r="6.5"/></g>
<g id="n24"><circle cx="900" cy="293" r="6.5"/></g>
<g id="n25"><circle cx="909" cy="304" r="6.5"/></g>
<g id="n26"><circle cx="925" cy="313" r="6.5"/></g>
<g id="n27"><circle cx="931" cy="321" r="6.5"/></g>
<g id="n28"><circle cx="991" cy="324" r="6.5"/></g>
<g id="n29"><circle cx="965" cy="333" r="6.5"/></g>
<g id="n30"><circle cx="885" cy="335" r="6.5"/></g>
<g id="n31"><circle cx="841" cy="331" r="6.5"/></g>
<g id="n32"><circle cx="849" cy="341" r="6.5"/></g>
<g id="n33"><circle cx="837" cy="348" r="6.5"/></g>
<g id="n34"><circle cx="826" cy="354" r="6.5"/></g>
<g id="n35"><circle cx="815" cy="361" r="6.5"/></g>
<g id="n36"><circle cx="802" cy="369" r="6.5"/></g>
<g id="n37"><circle cx="791" cy="378" r="6.5"/></g>
<g id="n38"><circle cx="773" cy="370" r="6.5"/></g>
<g id="n39"><circle cx="747" cy="368" r="6.5"/></g>
<g id="n40"><circle cx="729" cy="378" r="6.5"/></g>
<g id="n41"><circle cx="704" cy="380" r="6.5"/></g>
<g id="n42"><circle cx="706" cy="402" r="6.5"/></g>
<g id="n43"><circle cx="682" cy="405" r="6.5"/></g>
<g id="n44"><circle cx="668" cy="405" r="6.5"/></g>
<g id="n45"><circle cx="766" cy="402" r="6.5"/></g>
<g id="n46"><circle cx="787" cy="401" r="6.5"/></g>
<g id="n47"><circle cx="839" cy="402" r="6.5"/></g>
<g id="n48"><circle cx="870" cy="361" r="6.5"/></g>
<g id="n49"><circle cx="890" cy="362" r="6.5"/></g>
<g id="n50"><circle cx="920" cy="347" r="6.5"/></g>
<g id="n51"><circle cx="913" cy="355" r="6.5"/></g>
<g id="n52"><circle cx="943" cy="340" r="6.5"/></g>
<g id="n53"><circle cx="957" cy="345" r="6.5"/></g>
<g id="n54"><circle cx="975" cy="344" r="6.5"/></g>
<g id="n55"><circle cx="996" cy="363" r="6.5"/></g>
<g id="n56"><circle cx="990" cy="377" r="6.5"/></g>
<g id="n57"><circle cx="1042" cy="356" r="6.5"/></g>
<g id="n58"><circle cx="1065" cy="318" r="6.5"/></g>
<g id="n59"><circle cx="1067" cy="332" r="6.5"/></g>
<g id="n60"><circle cx="918" cy="371" r="6.5"/></g>
<g id="n61"><circle cx="942" cy="381" r="6.5"/></g>
<g id="n62"><circle cx="969" cy="394" r="6.5"/></g>
<g id="n63"><circle cx="963" cy="373" r="6.5"/></g>
<g id="n64"><circle cx="1044" cy="390" r="6.5"/></g>
<g id="n65"><circle cx="1031" cy="404" r="6.5"/></g>
<g id="n66"><circle cx="1040" cy="414" r="6.5"/></g>
<g id="n67"><circle cx="874" cy="397" r="6.5"/></g>
<g id="n68"><circle cx="865" cy="408" r="6.5"/></g>
<g id="n69"><circle cx="834" cy="416" r="6.5"/></g>
<g id="n70"><circle cx="877" cy="419" r="6.5"/></g>
<g id="n71"><circle cx="888" cy="417" r="6.5"/></g>
<g id="n72"><circle cx="897" cy="412" r="6.5"/></g>
<g id="n73"><circle cx="917" cy="424" r="6.5"/></g>
<g id="n74"><circle cx="893" cy="435" r="6.5"/></g>
<g id="n75"><circle cx="907" cy="443" r="6.5"/></g>
<g id="n76"><circle cx="932" cy="449" r="6.5"/></g>
<g id="n77"><circle cx="967" cy="436" r="6.5"/></g>
<g id="n78"><circle cx="981" cy="432" r="6.5"/></g>
<g id="n79"><circle cx="995" cy="423" r="6.5"/></g>
<g id="n80"><circle cx="1009" cy="422" r="6.5"/></g>
<g id="n81"><circle cx="998" cy="457" r="6.5"/></g>
<g id="n82"><circle cx="1010" cy="461" r="6.5"/></g>
<g id="n83"><circle cx="1054" cy="453" r="6.5"/></g>
<g id="n84"><circle cx="629" cy="437" r="6.5"/></g>
<g id="n85"><circle cx="629" cy="455" r="6.5"/></g>
<g id="n86"><circle cx="600" cy="477" r="6.5"/></g>
<g id="n87"><circle cx="613" cy="473" r="6.5"/></g>
<g id="n88"><circle cx="737" cy="438" r="6.5"/></g>
<g id="n89"><circle cx="772" cy="443" r="6.5"/></g>
<g id="n90"><circle cx="782" cy="443" r="6.5"/></g>
<g id="n91"><circle cx="807" cy="443" r="6.5"/></g>
<g id="n92"><circle cx="848" cy="450" r="6.5"/></g>
<g id="n93"><circle cx="813" cy="460" r="6.5"/></g>
<g id="n94"><circle cx="832" cy="464" r="6.5"/></g>
<g id="n95"><circle cx="779" cy="470" r="6.5"/></g>
<g id="n96"><circle cx="683" cy="478" r="6.5"/></g>
<g id="n97"><circle cx="727" cy="482" r="6.5"/></g>
<g id="n98"><circle cx="752" cy="487" r="6.5"/></g>
<g id="n99"><circle cx="702" cy="499" r="6.5"/></g>
<g id="n100"><circle cx="782" cy="490" r="6.5"/></g>
<g id="n101"><circle cx="782" cy="496" r="6.5"/></g>
<g id="n102"><circle cx="824" cy="487" r="6.5"/></g>
<g id="n103"><circle cx="832" cy="474" r="6.5"/></g>
<g id="n104"><circle cx="873" cy="465" r="6.5"/></g>
<g id="n105"><circle cx="879" cy="477" r="6.5"/></g>
<g id="n106"><circle cx="576" cy="521" r="6.5"/></g>
<g id="n107"><circle cx="677" cy="519" r="6.5"/></g>
<g id="n108"><circle cx="741" cy="531" r="6.5"/></g>
<g id="n109"><circle cx="765" cy="516" r="6.5"/></g>
<g id="n110"><circle cx="644" cy="554" r="6.5"/></g>
<g id="n111"><circle cx="684" cy="551" r="6.5"/></g>
<g id="n112"><circle cx="739" cy="560" r="6.5"/></g>
<g id="n113"><circle cx="681" cy="577" r="6.5"/></g>
<g id="n114"><circle cx="655" cy="585" r="6.5"/></g>
<g id="n115"><circle cx="654" cy="593" r="6.5"/></g>
<g id="n116"><circle cx="604" cy="596" r="6.5"/></g>
<g id="n117"><circle cx="612" cy="608" r="6.5"/></g>
<g id="n118"><circle cx="558" cy="611" r="6.5"/></g>
<g id="n119"><circle cx="655" cy="625" r="6.5"/></g>
<g id="n120"><circle cx="668" cy="627" r="6.5"/></g>
<g id="n121"><circle cx="797" cy="527" r="6.5"/></g>
<g id="n122"><circle cx="804" cy="521" r="6.5"/></g>
<g id="n123"><circle cx="827" cy="517" r="6.5"/></g>
<g id="n124"><circle cx="841" cy="508" r="6.5"/></g>
<g id="n125"><circle cx="859" cy="511" r="6.5"/></g>
<g id="n126"><circle cx="871" cy="498" r="6.5"/></g>
<g id="n127"><circle cx="1298" cy="257" r="6.5"/></g>
<g id="n128"><circle cx="1197" cy="267" r="6.5"/></g>
<g id="n129"><circle cx="1207" cy="267" r="6.5"/></g>
<g id="n130"><circle cx="1217" cy="269" r="6.5"/></g>
<g id="n131"><circle cx="1227" cy="270" r="6.5"/></g>
<g id="n132"><circle cx="1237" cy="272" r="6.5"/></g>
<g id="n133"><circle cx="1248" cy="274" r="6.5"/></g>
<g id="n134"><circle cx="1258" cy="276" r="6.5"/></g>
<g id="n135"><circle cx="1270" cy="278" r="6.5"/></g>
<g id="n136"><circle cx="1489" cy="271" r="6.5"/></g>
<g id="n137"><circle cx="1327" cy="301" r="6.5"/></g>
<g id="n138"><circle cx="1371" cy="322" r="6.5"/></g>
<g id="n139"><circle cx="1524" cy="325" r="6.5"/></g>
<g id="n140"><circle cx="1301" cy="318" r="6.5"/></g>
<g id="n141"><circle cx="1238" cy="313" r="6.5"/></g>
<g id="n142"><circle cx="1263" cy="334" r="6.5"/></g>
<g id="n143"><circle cx="1249" cy="341" r="6.5"/></g>
<g id="n144"><circle cx="1277" cy="351" r="6.5"/></g>
<g id="n145"><circle cx="1306" cy="361" r="6.5"/></g>
<g id="n146"><circle cx="1109" cy="296" r="6.5"/></g>
<g id="n147"><circle cx="1076" cy="309" r="6.5"/></g>
<g id="n148"><circle cx="1093" cy="309" r="6.5"/></g>
<g id="n149"><circle cx="1127" cy="309" r="6.5"/></g>
<g id="n150"><circle cx="1146" cy="315" r="6.5"/></g>
<g id="n151"><circle cx="1066" cy="318" r="6.5"/></g>
<g id="n152"><circle cx="1068" cy="332" r="6.5"/></g>
<g id="n153"><circle cx="1083" cy="323" r="6.5"/></g>
<g id="n154"><circle cx="1090" cy="348" r="6.5"/></g>
<g id="n155"><circle cx="1115" cy="361" r="6.5"/></g>
<g id="n156"><circle cx="1154" cy="355" r="6.5"/></g>
<g id="n157"><circle cx="1180" cy="331" r="6.5"/></g>
<g id="n158"><circle cx="1193" cy="341" r="6.5"/></g>
<g id="n159"><circle cx="1210" cy="344" r="6.5"/></g>
<g id="n160"><circle cx="1217" cy="331" r="6.5"/></g>
<g id="n161"><circle cx="1222" cy="350" r="6.5"/></g>
<g id="n162"><circle cx="1207" cy="369" r="6.5"/></g>
<g id="n163"><circle cx="1201" cy="377" r="6.5"/></g>
<g id="n164"><circle cx="1181" cy="373" r="6.5"/></g>
<g id="n165"><circle cx="1169" cy="387" r="6.5"/></g>
<g id="n166"><circle cx="1140" cy="376" r="6.5"/></g>
<g id="n167"><circle cx="1119" cy="384" r="6.5"/></g>
<g id="n168"><circle cx="1123" cy="389" r="6.5"/></g>
<g id="n169"><circle cx="1097" cy="392" r="6.5"/></g>
<g id="n170"><circle cx="1076" cy="373" r="6.5"/></g>
<g id="n171"><circle cx="1247" cy="368" r="6.5"/></g>
<g id="n172"><circle cx="1243" cy="391" r="6.5"/></g>
<g id="n173"><circle cx="1215" cy="391" r="6.5"/></g>
<g id="n174"><circle cx="1214" cy="401" r="6.5"/></g>
<g id="n175"><circle cx="1223" cy="414" r="6.5"/></g>
<g id="n176"><circle cx="1181" cy="401" r="6.5"/></g>
<g id="n177"><circle cx="1149" cy="413" r="6.5"/></g>
<g id="n178"><circle cx="1197" cy="425" r="6.5"/></g>
<g id="n179"><circle cx="1268" cy="380" r="6.5"/></g>
<g id="n180"><circle cx="1271" cy="393" r="6.5"/></g>
<g id="n181"><circle cx="1292" cy="371" r="6.5"/></g>
<g id="n182"><circle cx="1299" cy="375" r="6.5"/></g>
<g id="n183"><circle cx="1305" cy="398" r="6.5"/></g>
<g id="n184"><circle cx="1318" cy="377" r="6.5"/></g>
<g id="n185"><circle cx="1333" cy="381" r="6.5"/></g>
<g id="n186"><circle cx="1345" cy="382" r="6.5"/></g>
<g id="n187"><circle cx="1341" cy="396" r="6.5"/></g>
<g id="n188"><circle cx="1330" cy="407" r="6.5"/></g>
<g id="n189"><circle cx="1312" cy="423" r="6.5"/></g>
<g id="n190"><circle cx="1353" cy="364" r="6.5"/></g>
<g id="n191"><circle cx="1388" cy="368" r="6.5"/></g>
<g id="n192"><circle cx="1398" cy="340" r="6.5"/></g>
<g id="n193"><circle cx="1417" cy="351" r="6.5"/></g>
<g id="n194"><circle cx="1476" cy="370" r="6.5"/></g>
<g id="n195"><circle cx="1418" cy="377" r="6.5"/></g>
<g id="n196"><circle cx="1437" cy="383" r="6.5"/></g>
<g id="n197"><circle cx="1384" cy="386" r="6.5"/></g>
<g id="n198"><circle cx="1380" cy="401" r="6.5"/></g>
<g id="n199"><circle cx="1432" cy="406" r="6.5"/></g>
<g id="n200"><circle cx="1534" cy="386" r="6.5"/></g>
<g id="n201"><circle cx="1549" cy="406" r="6.5"/></g>
<g id="n202"><circle cx="1543" cy="440" r="6.5"/></g>
<g id="n203"><circle cx="1536" cy="476" r="6.5"/></g>
<g id="n204"><circle cx="1608" cy="487" r="6.5"/></g>
<g id="n205"><circle cx="1603" cy="531" r="6.5"/></g>
<g id="n206"><circle cx="1600" cy="548" r="6.5"/></g>
<g id="n207"><circle cx="1449" cy="436" r="6.5"/></g>
<g id="n208"><circle cx="1488" cy="467" r="6.5"/></g>
<g id="n209"><circle cx="1455" cy="474" r="6.5"/></g>
<g id="n210"><circle cx="1479" cy="487" r="6.5"/></g>
<g id="n211"><circle cx="1512" cy="519" r="6.5"/></g>
<g id="n212"><circle cx="1529" cy="529" r="6.5"/></g>
<g id="n213"><circle cx="1511" cy="544" r="6.5"/></g>
<g id="n214"><circle cx="1519" cy="568" r="6.5"/></g>
<g id="n215"><circle cx="1405" cy="429" r="6.5"/></g>
<g id="n216"><circle cx="1419" cy="434" r="6.5"/></g>
<g id="n217"><circle cx="1364" cy="442" r="6.5"/></g>
<g id="n218"><circle cx="1358" cy="425" r="6.5"/></g>
<g id="n219"><circle cx="1351" cy="433" r="6.5"/></g>
<g id="n220"><circle cx="1341" cy="433" r="6.5"/></g>
<g id="n221"><circle cx="1335" cy="454" r="6.5"/></g>
<g id="n222"><circle cx="1313" cy="458" r="6.5"/></g>
<g id="n223"><circle cx="1381" cy="454" r="6.5"/></g>
<g id="n224"><circle cx="1395" cy="452" r="6.5"/></g>
<g id="n225"><circle cx="1413" cy="468" r="6.5"/></g>
<g id="n226"><circle cx="1423" cy="489" r="6.5"/></g>
<g id="n227"><circle cx="1430" cy="493" r="6.5"/></g>
<g id="n228"><circle cx="1444" cy="516" r="6.5"/></g>
<g id="n229"><circle cx="1463" cy="512" r="6.5"/></g>
<g id="n230"><circle cx="1464" cy="522" r="6.5"/></g>
<g id="n231"><circle cx="1477" cy="521" r="6.5"/></g>
<g id="n232"><circle cx="1477" cy="530" r="6.5"/></g>
<g id="n233"><circle cx="1477" cy="543" r="6.5"/></g>
<g id="n234"><circle cx="1463" cy="578" r="6.5"/></g>
<g id="n235"><circle cx="1474" cy="583" r="6.5"/></g>
<g id="n236"><circle cx="1525" cy="592" r="6.5"/></g>
<g id="n237"><circle cx="1542" cy="583" r="6.5"/></g>
<g id="n238"><circle cx="1543" cy="595" r="6.5"/></g>
<g id="n239"><circle cx="1547" cy="544" r="6.5"/></g>
<g id="n240"><circle cx="1556" cy="552" r="6.5"/></g>
<g id="n241"><circle cx="1560" cy="561" r="6.5"/></g>
<g id="n242"><circle cx="1563" cy="572" r="6.5"/></g>
<g id="n243"><circle cx="1567" cy="583" r="6.5"/></g>
<g id="n244"><circle cx="1570" cy="593" r="6.5"/></g>
<g id="n245"><circle cx="1572" cy="604" r="6.5"/></g>
<g id="n246"><circle cx="1573" cy="613" r="6.5"/></g>
<g id="n247"><circle cx="1575" cy="623" r="6.5"/></g>
<g id="n248"><circle cx="1576" cy="632" r="6.5"/></g>
<g id="n249"><circle cx="1577" cy="642" r="6.5"/></g>
<g id="n250"><circle cx="1578" cy="653" r="6.5"/></g>
<g id="n251"><circle cx="1568" cy="650" r="6.5"/></g>
<g id="n252"><circle cx="1574" cy="664" r="6.5"/></g>
<g id="n253"><circle cx="1577" cy="672" r="6.5"/></g>
<g id="n254"><circle cx="1577" cy="680" r="6.5"/></g>
<g id="n255"><circle cx="1579" cy="688" r="6.5"/></g>
<g id="n256"><circle cx="1575" cy="701" r="6.5"/></g>
<g id="n257"><circle cx="1573" cy="712" r="6.5"/></g>
<g id="n258"><circle cx="1571" cy="723" r="6.5"/></g>
<g id="n259"><circle cx="1570" cy="729" r="6.5"/></g>
<g id="n260"><circle cx="1567" cy="740" r="6.5"/></g>
<g id="n261"><circle cx="1564" cy="749" r="6.5"/></g>
<g id="n262"><circle cx="1562" cy="757" r="6.5"/></g>
<g id="n263"><circle cx="1558" cy="766" r="6.5"/></g>
<g id="n264"><circle cx="1604" cy="531" r="6.5"/></g>
<g id="n265"><circle cx="1601" cy="548" r="6.5"/></g>
<g id="n266"><circle cx="1530" cy="528" r="6.5"/></g>
<g id="n267"><circle cx="1520" cy="568" r="6.5"/></g>
<g id="n268"><circle cx="1541" cy="584" r="6.5"/></g>
<g id="n269"><circle cx="1531" cy="623" r="6.5"/></g>
<g id="n270"><circle cx="1543" cy="625" r="6.5"/></g>
<g id="n271"><circle cx="1503" cy="643" r="6.5"/></g>
<g id="n272"><circle cx="1525" cy="664" r="6.5"/></g>
<g id="n273"><circle cx="1506" cy="675" r="6.5"/></g>
<g id="n274"><circle cx="1530" cy="687" r="6.5"/></g>
<g id="n275"><circle cx="1561" cy="691" r="6.5"/></g>
<g id="n276"><circle cx="1549" cy="713" r="6.5"/></g>
<g id="n277"><circle cx="1523" cy="731" r="6.5"/></g>
<g id="n278"><circle cx="1527" cy="756" r="6.5"/></g>
<g id="n279"><circle cx="1532" cy="778" r="6.5"/></g>
<g id="n280"><circle cx="1511" cy="785" r="6.5"/></g>
<g id="n281"><circle cx="1590" cy="806" r="6.5"/></g>
<g id="n282"><circle cx="1556" cy="811" r="6.5"/></g>
<g id="n283"><circle cx="1596" cy="850" r="6.5"/></g>
<g id="n284"><circle cx="1590" cy="920" r="6.5"/></g>
<g id="n285"><circle cx="1553" cy="933" r="6.5"/></g>
<g id="n286"><circle cx="1537" cy="878" r="6.5"/></g>
<g id="n287"><circle cx="1512" cy="868" r="6.5"/></g>
<g id="n288"><circle cx="1494" cy="875" r="6.5"/></g>
<g id="n289"><circle cx="1526" cy="982" r="6.5"/></g>
<g id="n290"><circle cx="1501" cy="991" r="6.5"/></g>
<g id="n291"><circle cx="1467" cy="967" r="6.5"/></g>
<g id="n292"><circle cx="1449" cy="958" r="6.5"/></g>
<g id="n293"><circle cx="1441" cy="1050" r="6.5"/></g>
<g id="n294"><circle cx="1415" cy="918" r="6.5"/></g>
<g id="n295"><circle cx="1391" cy="911" r="6.5"/></g>
<g id="n296"><circle cx="1387" cy="894" r="6.5"/></g>
<g id="n297"><circle cx="1428" cy="882" r="6.5"/></g>
<g id="n298"><circle cx="1440" cy="841" r="6.5"/></g>
<g id="n299"><circle cx="1471" cy="809" r="6.5"/></g>
<g id="n300"><circle cx="1485" cy="781" r="6.5"/></g>
<g id="n301"><circle cx="1526" cy="756" r="6.5"/></g>
<g id="n302"><circle cx="1483" cy="749" r="6.5"/></g>
<g id="n303"><circle cx="1462" cy="767" r="6.5"/></g>
<g id="n304"><circle cx="1482" cy="727" r="6.5"/></g>
<g id="n305"><circle cx="1496" cy="732" r="6.5"/></g>
<g id="n306"><circle cx="1481" cy="630" r="6.5"/></g>
<g id="n307"><circle cx="1171" cy="1075" r="6.5"/></g>
<g id="n308"><circle cx="1100" cy="1027" r="6.5"/></g>
<g id="n309"><circle cx="1106" cy="977" r="6.5"/></g>
<g id="n310"><circle cx="1132" cy="998" r="6.5"/></g>
<g id="n311"><circle cx="1152" cy="987" r="6.5"/></g>
<g id="n312"><circle cx="1176" cy="996" r="6.5"/></g>
<g id="n313"><circle cx="1195" cy="990" r="6.5"/></g>
<g id="n314"><circle cx="1196" cy="1013" r="6.5"/></g>
<g id="n315"><circle cx="1217" cy="994" r="6.5"/></g>
<g id="n316"><circle cx="1233" cy="1050" r="6.5"/></g>
<g id="n317"><circle cx="1319" cy="1057" r="6.5"/></g>
<g id="n318"><circle cx="1221" cy="1026" r="6.5"/></g>
<g id="n319"><circle cx="1230" cy="1029" r="6.5"/></g>
<g id="n320"><circle cx="1237" cy="1028" r="6.5"/></g>
<g id="n321"><circle cx="1247" cy="1026" r="6.5"/></g>
<g id="n322"><circle cx="1256" cy="1024" r="6.5"/></g>
<g id="n323"><circle cx="1269" cy="1016" r="6.5"/></g>
<g id="n324"><circle cx="1272" cy="1033" r="6.5"/></g>
<g id="n325"><circle cx="1255" cy="1036" r="6.5"/></g>
<g id="n326"><circle cx="1287" cy="1017" r="6.5"/></g>
<g id="n327"><circle cx="1286" cy="987" r="6.5"/></g>
<g id="n328"><circle cx="1342" cy="991" r="6.5"/></g>
<g id="n329"><circle cx="1314" cy="982" r="6.5"/></g>
<g id="n330"><circle cx="1327" cy="979" r="6.5"/></g>
<g id="n331"><circle cx="1345" cy="972" r="6.5"/></g>
<g id="n332"><circle cx="1303" cy="974" r="6.5"/></g>
<g id="n333"><circle cx="1289" cy="964" r="6.5"/></g>
<g id="n334"><circle cx="1297" cy="961" r="6.5"/></g>
<g id="n335"><circle cx="1355" cy="958" r="6.5"/></g>
<g id="n336"><circle cx="1361" cy="957" r="6.5"/></g>
<g id="n337"><circle cx="1342" cy="951" r="6.5"/></g>
<g id="n338"><circle cx="1314" cy="939" r="6.5"/></g>
<g id="n339"><circle cx="1286" cy="943" r="6.5"/></g>
<g id="n340"><circle cx="1257" cy="949" r="6.5"/></g>
<g id="n341"><circle cx="1257" cy="961" r="6.5"/></g>
<g id="n342"><circle cx="1245" cy="961" r="6.5"/></g>
<g id="n343"><circle cx="1226" cy="947" r="6.5"/></g>
<g id="n344"><circle cx="1194" cy="955" r="6.5"/></g>
<g id="n345"><circle cx="1150" cy="952" r="6.5"/></g>
<g id="n346"><circle cx="1136" cy="952" r="6.5"/></g>
<g id="n347"><circle cx="1074" cy="954" r="6.5"/></g>
<g id="n348"><circle cx="1081" cy="954" r="6.5"/></g>
<g id="n349"><circle cx="1103" cy="910" r="6.5"/></g>
<g id="n350"><circle cx="1117" cy="894" r="6.5"/></g>
<g id="n351"><circle cx="1066" cy="893" r="6.5"/></g>
<g id="n352"><circle cx="1171" cy="906" r="6.5"/></g>
<g id="n353"><circle cx="1182" cy="918" r="6.5"/></g>
<g id="n354"><circle cx="1187" cy="918" r="6.5"/></g>
<g id="n355"><circle cx="1200" cy="918" r="6.5"/></g>
<g id="n356"><circle cx="1231" cy="913" r="6.5"/></g>
<g id="n357"><circle cx="1255" cy="923" r="6.5"/></g>
<g id="n358"><circle cx="1305" cy="907" r="6.5"/></g>
<g id="n359"><circle cx="1307" cy="922" r="6.5"/></g>
<g id="n360"><circle cx="1327" cy="889" r="6.5"/></g>
<g id="n361"><circle cx="1348" cy="882" r="6.5"/></g>
<g id="n362"><circle cx="1381" cy="876" r="6.5"/></g>
<g id="n363"><circle cx="1401" cy="873" r="6.5"/></g>
<g id="n364"><circle cx="1050" cy="957" r="6.5"/></g>
<g id="n365"><circle cx="1035" cy="919" r="6.5"/></g>
<g id="n366"><circle cx="1015" cy="1054" r="6.5"/></g>
<g id="n367"><circle cx="1020" cy="1040" r="6.5"/></g>
<g id="n368"><circle cx="1010" cy="1020" r="6.5"/></g>
<g id="n369"><circle cx="558" cy="654" r="6.5"/></g>
<g id="n370"><circle cx="603" cy="663" r="6.5"/></g>
<g id="n371"><circle cx="604" cy="671" r="6.5"/></g>
<g id="n372"><circle cx="577" cy="693" r="6.5"/></g>
<g id="n373"><circle cx="634" cy="686" r="6.5"/></g>
<g id="n374"><circle cx="622" cy="712" r="6.5"/></g>
<g id="n375"><circle cx="599" cy="735" r="6.5"/></g>
<g id="n376"><circle cx="632" cy="744" r="6.5"/></g>
<g id="n377"><circle cx="606" cy="763" r="6.5"/></g>
<g id="n378"><circle cx="628" cy="761" r="6.5"/></g>
<g id="n379"><circle cx="639" cy="771" r="6.5"/></g>
<g id="n380"><circle cx="614" cy="789" r="6.5"/></g>
<g id="n381"><circle cx="623" cy="811" r="6.5"/></g>
<g id="n382"><circle cx="646" cy="809" r="6.5"/></g>
<g id="n383"><circle cx="626" cy="846" r="6.5"/></g>
<g id="n384"><circle cx="653" cy="859" r="6.5"/></g>
<g id="n385"><circle cx="662" cy="864" r="6.5"/></g>
<g id="n386"><circle cx="644" cy="873" r="6.5"/></g>
<g id="n387"><circle cx="651" cy="887" r="6.5"/></g>
<g id="n388"><circle cx="684" cy="879" r="6.5"/></g>
<g id="n389"><circle cx="707" cy="884" r="6.5"/></g>
<g id="n390"><circle cx="706" cy="905" r="6.5"/></g>
<g id="n391"><circle cx="724" cy="923" r="6.5"/></g>
<g id="n392"><circle cx="712" cy="949" r="6.5"/></g>
<g id="n393"><circle cx="666" cy="956" r="6.5"/></g>
<g id="n394"><circle cx="677" cy="1044" r="6.5"/></g>
<g id="n395"><circle cx="741" cy="1061" r="6.5"/></g>
<g id="n396"><circle cx="786" cy="1080" r="6.5"/></g>
<g id="n397"><circle cx="809" cy="1092" r="6.5"/></g>
<g id="n398"><circle cx="833" cy="1103" r="6.5"/></g>
<g id="n399"><circle cx="854" cy="1113" r="6.5"/></g>
<g id="n400"><circle cx="876" cy="1121" r="6.5"/></g>
<g id="n401"><circle cx="987" cy="1119" r="6.5"/></g>
<g id="n402"><circle cx="1033" cy="1112" r="6.5"/></g>
<g id="n403"><circle cx="1047" cy="1113" r="6.5"/></g>
<g id="n404"><circle cx="811" cy="959" r="6.5"/></g>
<g id="n405"><circle cx="828" cy="1040" r="6.5"/></g>
<g id="n406"><circle cx="817" cy="907" r="6.5"/></g>
<g id="n407"><circle cx="837" cy="973" r="6.5"/></g>
<g id="n408"><circle cx="858" cy="938" r="6.5"/></g>
<g id="n409"><circle cx="872" cy="950" r="6.5"/></g>
<g id="n410"><circle cx="870" cy="976" r="6.5"/></g>
<g id="n411"><circle cx="854" cy="998" r="6.5"/></g>
<g id="n412"><circle cx="863" cy="1000" r="6.5"/></g>
<g id="n413"><circle cx="892" cy="998" r="6.5"/></g>
<g id="n414"><circle cx="889" cy="1009" r="6.5"/></g>
<g id="n415"><circle cx="915" cy="1016" r="6.5"/></g>
<g id="n416"><circle cx="911" cy="970" r="6.5"/></g>
<g id="n417"><circle cx="942" cy="976" r="6.5"/></g>
<g id="n418"><circle cx="943" cy="1008" r="6.5"/></g>
<g id="n419"><circle cx="942" cy="952" r="6.5"/></g>
<g id="n420"><circle cx="940" cy="927" r="6.5"/></g>
<g id="n421"><circle cx="976" cy="948" r="6.5"/></g>
<g id="n422"><circle cx="977" cy="976" r="6.5"/></g>
<g id="n423"><circle cx="959" cy="1033" r="6.5"/></g>
<g id="n424"><circle cx="972" cy="1056" r="6.5"/></g>
<g id="n425"><circle cx="987" cy="1041" r="6.5"/></g>
<g id="n426"><circle cx="988" cy="1013" r="6.5"/></g>
<g id="n427"><circle cx="1001" cy="1018" r="6.5"/></g>
<g id="n428"><circle cx="1019" cy="1022" r="6.5"/></g>
<g id="n429"><circle cx="1024" cy="901" r="6.5"/></g>
<g id="n430"><circle cx="1051" cy="902" r="6.5"/></g>
<g id="n431"><circle cx="867" cy="915" r="6.5"/></g>
<g id="n432"><circle cx="895" cy="913" r="6.5"/></g>
<g id="n433"><circle cx="960" cy="902" r="6.5"/></g>
<g id="n434"><circle cx="956" cy="911" r="6.5"/></g>
<g id="n435"><circle cx="945" cy="898" r="6.5"/></g>
<g id="n436"><circle cx="908" cy="893" r="6.5"/></g>
<g id="n437"><circle cx="848" cy="884" r="6.5"/></g>
<g id="n438"><circle cx="832" cy="891" r="6.5"/></g>
<g id="n439"><circle cx="820" cy="866" r="6.5"/></g>
<g id="n440"><circle cx="836" cy="847" r="6.5"/></g>
<g id="n441"><circle cx="825" cy="832" r="6.5"/></g>
<g id="n442"><circle cx="778" cy="841" r="6.5"/></g>
<g id="n443"><circle cx="788" cy="835" r="6.5"/></g>
<g id="n444"><circle cx="804" cy="835" r="6.5"/></g>
<g id="n445"><circle cx="807" cy="849" r="6.5"/></g>
<g id="n446"><circle cx="748" cy="837" r="6.5"/></g>
<g id="n447"><circle cx="753" cy="812" r="6.5"/></g>
<g id="n448"><circle cx="725" cy="818" r="6.5"/></g>
<g id="n449"><circle cx="779" cy="794" r="6.5"/></g>
<g id="n450"><circle cx="731" cy="756" r="6.5"/></g>
<g id="n451"><circle cx="743" cy="770" r="6.5"/></g>
<g id="n452"><circle cx="757" cy="773" r="6.5"/></g>
<g id="n453"><circle cx="772" cy="765" r="6.5"/></g>
<g id="n454"><circle cx="780" cy="763" r="6.5"/></g>
<g id="n455"><circle cx="721" cy="714" r="6.5"/></g>
<g id="n456"><circle cx="749" cy="707" r="6.5"/></g>
<g id="n457"><circle cx="728" cy="685" r="6.5"/></g>
<g id="n458"><circle cx="741" cy="690" r="6.5"/></g>
<g id="n459"><circle cx="762" cy="733" r="6.5"/></g>
<g id="n460"><circle cx="729" cy="735" r="6.5"/></g>
<g id="n461"><circle cx="784" cy="663" r="6.5"/></g>
<g id="n462"><circle cx="654" cy="653" r="6.5"/></g>
<g id="n463"><circle cx="745" cy="649" r="6.5"/></g>
<g id="n464"><circle cx="745" cy="668" r="6.5"/></g>
<g id="n465"><circle cx="768" cy="672" r="6.5"/></g>
<g id="n466"><circle cx="758" cy="666" r="6.5"/></g>
<g id="n467"><circle cx="935" cy="443" r="6.5"/></g>
<g id="n468"><circle cx="999" cy="455" r="6.5"/></g>
<g id="n469"><circle cx="1015" cy="460" r="6.5"/></g>
<g id="n470"><circle cx="1066" cy="447" r="6.5"/></g>
<g id="n471"><circle cx="1088" cy="451" r="6.5"/></g>
<g id="n472"><circle cx="1119" cy="450" r="6.5"/></g>
<g id="n473"><circle cx="1160" cy="447" r="6.5"/></g>
<g id="n474"><circle cx="1210" cy="451" r="6.5"/></g>
<g id="n475"><circle cx="1228" cy="459" r="6.5"/></g>
<g id="n476"><circle cx="1261" cy="456" r="6.5"/></g>
<g id="n477"><circle cx="1315" cy="449" r="6.5"/></g>
<g id="n478"><circle cx="913" cy="480" r="6.5"/></g>
<g id="n479"><circle cx="920" cy="476" r="6.5"/></g>
<g id="n480"><circle cx="959" cy="485" r="6.5"/></g>
<g id="n481"><circle cx="1006" cy="473" r="6.5"/></g>
<g id="n482"><circle cx="1045" cy="468" r="6.5"/></g>
<g id="n483"><circle cx="1062" cy="482" r="6.5"/></g>
<g id="n484"><circle cx="1119" cy="464" r="6.5"/></g>
<g id="n485"><circle cx="1142" cy="477" r="6.5"/></g>
<g id="n486"><circle cx="1171" cy="486" r="6.5"/></g>
<g id="n487"><circle cx="1235" cy="469" r="6.5"/></g>
<g id="n488"><circle cx="1241" cy="474" r="6.5"/></g>
<g id="n489"><circle cx="1285" cy="471" r="6.5"/></g>
<g id="n490"><circle cx="1319" cy="467" r="6.5"/></g>
<g id="n491"><circle cx="1350" cy="481" r="6.5"/></g>
<g id="n492"><circle cx="864" cy="489" r="6.5"/></g>
<g id="n493"><circle cx="900" cy="506" r="6.5"/></g>
<g id="n494"><circle cx="925" cy="493" r="6.5"/></g>
<g id="n495"><circle cx="972" cy="493" r="6.5"/></g>
<g id="n496"><circle cx="1003" cy="497" r="6.5"/></g>
<g id="n497"><circle cx="1018" cy="495" r="6.5"/></g>
<g id="n498"><circle cx="1067" cy="500" r="6.5"/></g>
<g id="n499"><circle cx="1121" cy="497" r="6.5"/></g>
<g id="n500"><circle cx="1144" cy="491" r="6.5"/></g>
<g id="n501"><circle cx="1170" cy="503" r="6.5"/></g>
<g id="n502"><circle cx="1214" cy="500" r="6.5"/></g>
<g id="n503"><circle cx="1245" cy="505" r="6.5"/></g>
<g id="n504"><circle cx="1277" cy="497" r="6.5"/></g>
<g id="n505"><circle cx="1307" cy="490" r="6.5"/></g>
<g id="n506"><circle cx="1355" cy="486" r="6.5"/></g>
<g id="n507"><circle cx="1405" cy="488" r="6.5"/></g>
<g id="n508"><circle cx="810" cy="509" r="6.5"/></g>
<g id="n509"><circle cx="869" cy="529" r="6.5"/></g>
<g id="n510"><circle cx="879" cy="511" r="6.5"/></g>
<g id="n511"><circle cx="928" cy="523" r="6.5"/></g>
<g id="n512"><circle cx="967" cy="520" r="6.5"/></g>
<g id="n513"><circle cx="988" cy="531" r="6.5"/></g>
<g id="n514"><circle cx="1048" cy="521" r="6.5"/></g>
<g id="n515"><circle cx="1085" cy="510" r="6.5"/></g>
<g id="n516"><circle cx="1117" cy="531" r="6.5"/></g>
<g id="n517"><circle cx="1140" cy="515" r="6.5"/></g>
<g id="n518"><circle cx="1189" cy="511" r="6.5"/></g>
<g id="n519"><circle cx="1223" cy="524" r="6.5"/></g>
<g id="n520"><circle cx="1253" cy="517" r="6.5"/></g>
<g id="n521"><circle cx="1284" cy="523" r="6.5"/></g>
<g id="n522"><circle cx="1314" cy="520" r="6.5"/></g>
<g id="n523"><circle cx="1360" cy="520" r="6.5"/></g>
<g id="n524"><circle cx="1384" cy="518" r="6.5"/></g>
<g id="n525"><circle cx="811" cy="550" r="6.5"/></g>
<g id="n526"><circle cx="827" cy="547" r="6.5"/></g>
<g id="n527"><circle cx="862" cy="535" r="6.5"/></g>
<g id="n528"><circle cx="888" cy="553" r="6.5"/></g>
<g id="n529"><circle cx="957" cy="542" r="6.5"/></g>
<g id="n530"><circle cx="983" cy="552" r="6.5"/></g>
<g id="n531"><circle cx="1020" cy="553" r="6.5"/></g>
<g id="n532"><circle cx="1044" cy="546" r="6.5"/></g>
<g id="n533"><circle cx="1080" cy="552" r="6.5"/></g>
<g id="n534"><circle cx="1108" cy="542" r="6.5"/></g>
<g id="n535"><circle cx="1155" cy="538" r="6.5"/></g>
<g id="n536"><circle cx="1199" cy="551" r="6.5"/></g>
<g id="n537"><circle cx="1217" cy="541" r="6.5"/></g>
<g id="n538"><circle cx="1261" cy="534" r="6.5"/></g>
<g id="n539"><circle cx="1293" cy="532" r="6.5"/></g>
<g id="n540"><circle cx="1338" cy="535" r="6.5"/></g>
<g id="n541"><circle cx="1360" cy="549" r="6.5"/></g>
<g id="n542"><circle cx="1418" cy="542" r="6.5"/></g>
<g id="n543"><circle cx="796" cy="555" r="6.5"/></g>
<g id="n544"><circle cx="825" cy="556" r="6.5"/></g>
<g id="n545"><circle cx="848" cy="568" r="6.5"/></g>
<g id="n546"><circle cx="905" cy="559" r="6.5"/></g>
<g id="n547"><circle cx="926" cy="574" r="6.5"/></g>
<g id="n548"><circle cx="964" cy="557" r="6.5"/></g>
<g id="n549"><circle cx="988" cy="577" r="6.5"/></g>
<g id="n550"><circle cx="1027" cy="562" r="6.5"/></g>
<g id="n551"><circle cx="1062" cy="564" r="6.5"/></g>
<g id="n552"><circle cx="1122" cy="571" r="6.5"/></g>
<g id="n553"><circle cx="1144" cy="570" r="6.5"/></g>
<g id="n554"><circle cx="1174" cy="573" r="6.5"/></g>
<g id="n555"><circle cx="1230" cy="569" r="6.5"/></g>
<g id="n556"><circle cx="1236" cy="566" r="6.5"/></g>
<g id="n557"><circle cx="1269" cy="558" r="6.5"/></g>
<g id="n558"><circle cx="1316" cy="567" r="6.5"/></g>
<g id="n559"><circle cx="1343" cy="566" r="6.5"/></g>
<g id="n560"><circle cx="1406" cy="556" r="6.5"/></g>
<g id="n561"><circle cx="1437" cy="567" r="6.5"/></g>
<g id="n562"><circle cx="760" cy="597" r="6.5"/></g>
<g id="n563"><circle cx="796" cy="594" r="6.5"/></g>
<g id="n564"><circle cx="845" cy="600" r="6.5"/></g>
<g id="n565"><circle cx="868" cy="581" r="6.5"/></g>
<g id="n566"><circle cx="921" cy="600" r="6.5"/></g>
<g id="n567"><circle cx="947" cy="579" r="6.5"/></g>
<g id="n568"><circle cx="997" cy="594" r="6.5"/></g>
<g id="n569"><circle cx="1020" cy="591" r="6.5"/></g>
<g id="n570"><circle cx="1064" cy="592" r="6.5"/></g>
<g id="n571"><circle cx="1086" cy="590" r="6.5"/></g>
<g id="n572"><circle cx="1118" cy="583" r="6.5"/></g>
<g id="n573"><circle cx="1182" cy="581" r="6.5"/></g>
<g id="n574"><circle cx="1213" cy="597" r="6.5"/></g>
<g id="n575"><circle cx="1256" cy="584" r="6.5"/></g>
<g id="n576"><circle cx="1263" cy="596" r="6.5"/></g>
<g id="n577"><circle cx="1306" cy="579" r="6.5"/></g>
<g id="n578"><circle cx="1335" cy="598" r="6.5"/></g>
<g id="n579"><circle cx="1384" cy="580" r="6.5"/></g>
<g id="n580"><circle cx="1419" cy="592" r="6.5"/></g>
<g id="n581"><circle cx="763" cy="624" r="6.5"/></g>
<g id="n582"><circle cx="808" cy="618" r="6.5"/></g>
<g id="n583"><circle cx="856" cy="616" r="6.5"/></g>
<g id="n584"><circle cx="871" cy="605" r="6.5"/></g>
<g id="n585"><circle cx="925" cy="618" r="6.5"/></g>
<g id="n586"><circle cx="940" cy="607" r="6.5"/></g>
<g id="n587"><circle cx="998" cy="604" r="6.5"/></g>
<g id="n588"><circle cx="1012" cy="622" r="6.5"/></g>
<g id="n589"><circle cx="1067" cy="620" r="6.5"/></g>
<g id="n590"><circle cx="1074" cy="605" r="6.5"/></g>
<g id="n591"><circle cx="1128" cy="604" r="6.5"/></g>
<g id="n592"><circle cx="1181" cy="609" r="6.5"/></g>
<g id="n593"><circle cx="1206" cy="609" r="6.5"/></g>
<g id="n594"><circle cx="1240" cy="611" r="6.5"/></g>
<g id="n595"><circle cx="1256" cy="614" r="6.5"/></g>
<g id="n596"><circle cx="1313" cy="608" r="6.5"/></g>
<g id="n597"><circle cx="1357" cy="601" r="6.5"/></g>
<g id="n598"><circle cx="1367" cy="623" r="6.5"/></g>
<g id="n599"><circle cx="1432" cy="615" r="6.5"/></g>
<g id="n600"><circle cx="1458" cy="606" r="6.5"/></g>
<g id="n601"><circle cx="767" cy="633" r="6.5"/></g>
<g id="n602"><circle cx="793" cy="626" r="6.5"/></g>
<g id="n603"><circle cx="823" cy="628" r="6.5"/></g>
<g id="n604"><circle cx="893" cy="638" r="6.5"/></g>
<g id="n605"><circle cx="928" cy="633" r="6.5"/></g>
<g id="n606"><circle cx="931" cy="642" r="6.5"/></g>
<g id="n607"><circle cx="968" cy="633" r="6.5"/></g>
<g id="n608"><circle cx="1009" cy="640" r="6.5"/></g>
<g id="n609"><circle cx="1065" cy="631" r="6.5"/></g>
<g id="n610"><circle cx="1085" cy="641" r="6.5"/></g>
<g id="n611"><circle cx="1137" cy="629" r="6.5"/></g>
<g id="n612"><circle cx="1176" cy="639" r="6.5"/></g>
<g id="n613"><circle cx="1199" cy="628" r="6.5"/></g>
<g id="n614"><circle cx="1234" cy="641" r="6.5"/></g>
<g id="n615"><circle cx="1279" cy="633" r="6.5"/></g>
<g id="n616"><circle cx="1308" cy="631" r="6.5"/></g>
<g id="n617"><circle cx="1326" cy="625" r="6.5"/></g>
<g id="n618"><circle cx="1386" cy="627" r="6.5"/></g>
<g id="n619"><circle cx="1424" cy="634" r="6.5"/></g>
<g id="n620"><circle cx="1443" cy="632" r="6.5"/></g>
<g id="n621"><circle cx="774" cy="666" r="6.5"/></g>
<g id="n622"><circle cx="816" cy="667" r="6.5"/></g>
<g id="n623"><circle cx="852" cy="650" r="6.5"/></g>
<g id="n624"><circle cx="875" cy="664" r="6.5"/></g>
<g id="n625"><circle cx="924" cy="667" r="6.5"/></g>
<g id="n626"><circle cx="954" cy="668" r="6.5"/></g>
<g id="n627"><circle cx="994" cy="661" r="6.5"/></g>
<g id="n628"><circle cx="1030" cy="665" r="6.5"/></g>
<g id="n629"><circle cx="1066" cy="650" r="6.5"/></g>
<g id="n630"><circle cx="1100" cy="657" r="6.5"/></g>
<g id="n631"><circle cx="1115" cy="647" r="6.5"/></g>
<g id="n632"><circle cx="1156" cy="658" r="6.5"/></g>
<g id="n633"><circle cx="1203" cy="657" r="6.5"/></g>
<g id="n634"><circle cx="1220" cy="658" r="6.5"/></g>
<g id="n635"><circle cx="1275" cy="669" r="6.5"/></g>
<g id="n636"><circle cx="1323" cy="656" r="6.5"/></g>
<g id="n637"><circle cx="1332" cy="658" r="6.5"/></g>
<g id="n638"><circle cx="1392" cy="652" r="6.5"/></g>
<g id="n639"><circle cx="1428" cy="663" r="6.5"/></g>
<g id="n640"><circle cx="1452" cy="660" r="6.5"/></g>
<g id="n641"><circle cx="789" cy="678" r="6.5"/></g>
<g id="n642"><circle cx="807" cy="670" r="6.5"/></g>
<g id="n643"><circle cx="863" cy="683" r="6.5"/></g>
<g id="n644"><circle cx="868" cy="675" r="6.5"/></g>
<g id="n645"><circle cx="910" cy="670" r="6.5"/></g>
<g id="n646"><circle cx="943" cy="684" r="6.5"/></g>
<g id="n647"><circle cx="1003" cy="679" r="6.5"/></g>
<g id="n648"><circle cx="1020" cy="679" r="6.5"/></g>
<g id="n649"><circle cx="1073" cy="684" r="6.5"/></g>
<g id="n650"><circle cx="1109" cy="678" r="6.5"/></g>
<g id="n651"><circle cx="1126" cy="688" r="6.5"/></g>
<g id="n652"><circle cx="1169" cy="686" r="6.5"/></g>
<g id="n653"><circle cx="1199" cy="693" r="6.5"/></g>
<g id="n654"><circle cx="1246" cy="682" r="6.5"/></g>
<g id="n655"><circle cx="1291" cy="672" r="6.5"/></g>
<g id="n656"><circle cx="1303" cy="673" r="6.5"/></g>
<g id="n657"><circle cx="1350" cy="693" r="6.5"/></g>
<g id="n658"><circle cx="1403" cy="693" r="6.5"/></g>
<g id="n659"><circle cx="1417" cy="677" r="6.5"/></g>
<g id="n660"><circle cx="786" cy="694" r="6.5"/></g>
<g id="n661"><circle cx="829" cy="705" r="6.5"/></g>
<g id="n662"><circle cx="832" cy="715" r="6.5"/></g>
<g id="n663"><circle cx="877" cy="710" r="6.5"/></g>
<g id="n664"><circle cx="912" cy="697" r="6.5"/></g>
<g id="n665"><circle cx="941" cy="707" r="6.5"/></g>
<g id="n666"><circle cx="980" cy="707" r="6.5"/></g>
<g id="n667"><circle cx="1028" cy="699" r="6.5"/></g>
<g id="n668"><circle cx="1062" cy="715" r="6.5"/></g>
<g id="n669"><circle cx="1102" cy="701" r="6.5"/></g>
<g id="n670"><circle cx="1143" cy="695" r="6.5"/></g>
<g id="n671"><circle cx="1165" cy="699" r="6.5"/></g>
<g id="n672"><circle cx="1205" cy="705" r="6.5"/></g>
<g id="n673"><circle cx="1234" cy="695" r="6.5"/></g>
<g id="n674"><circle cx="1271" cy="701" r="6.5"/></g>
<g id="n675"><circle cx="1314" cy="709" r="6.5"/></g>
<g id="n676"><circle cx="1352" cy="701" r="6.5"/></g>
<g id="n677"><circle cx="1379" cy="697" r="6.5"/></g>
<g id="n678"><circle cx="1417" cy="697" r="6.5"/></g>
<g id="n679"><circle cx="789" cy="732" r="6.5"/></g>
<g id="n680"><circle cx="796" cy="716" r="6.5"/></g>
<g id="n681"><circle cx="833" cy="719" r="6.5"/></g>
<g id="n682"><circle cx="896" cy="725" r="6.5"/></g>
<g id="n683"><circle cx="931" cy="722" r="6.5"/></g>
<g id="n684"><circle cx="971" cy="729" r="6.5"/></g>
<g id="n685"><circle cx="1003" cy="724" r="6.5"/></g>
<g id="n686"><circle cx="1019" cy="735" r="6.5"/></g>
<g id="n687"><circle cx="1077" cy="726" r="6.5"/></g>
<g id="n688"><circle cx="1086" cy="720" r="6.5"/></g>
<g id="n689"><circle cx="1126" cy="733" r="6.5"/></g>
<g id="n690"><circle cx="1181" cy="719" r="6.5"/></g>
<g id="n691"><circle cx="1218" cy="717" r="6.5"/></g>
<g id="n692"><circle cx="1249" cy="735" r="6.5"/></g>
<g id="n693"><circle cx="1283" cy="727" r="6.5"/></g>
<g id="n694"><circle cx="1301" cy="722" r="6.5"/></g>
<g id="n695"><circle cx="1363" cy="728" r="6.5"/></g>
<g id="n696"><circle cx="1396" cy="733" r="6.5"/></g>
<g id="n697"><circle cx="1412" cy="730" r="6.5"/></g>
<g id="n698"><circle cx="783" cy="745" r="6.5"/></g>
<g id="n699"><circle cx="822" cy="759" r="6.5"/></g>
<g id="n700"><circle cx="843" cy="751" r="6.5"/></g>
<g id="n701"><circle cx="899" cy="756" r="6.5"/></g>
<g id="n702"><circle cx="940" cy="756" r="6.5"/></g>
<g id="n703"><circle cx="950" cy="752" r="6.5"/></g>
<g id="n704"><circle cx="1007" cy="743" r="6.5"/></g>
<g id="n705"><circle cx="1035" cy="757" r="6.5"/></g>
<g id="n706"><circle cx="1053" cy="746" r="6.5"/></g>
<g id="n707"><circle cx="1093" cy="742" r="6.5"/></g>
<g id="n708"><circle cx="1132" cy="757" r="6.5"/></g>
<g id="n709"><circle cx="1183" cy="742" r="6.5"/></g>
<g id="n710"><circle cx="1195" cy="743" r="6.5"/></g>
<g id="n711"><circle cx="1241" cy="759" r="6.5"/></g>
<g id="n712"><circle cx="1291" cy="742" r="6.5"/></g>
<g id="n713"><circle cx="1310" cy="753" r="6.5"/></g>
<g id="n714"><circle cx="1342" cy="744" r="6.5"/></g>
<g id="n715"><circle cx="1398" cy="744" r="6.5"/></g>
<g id="n716"><circle cx="1418" cy="759" r="6.5"/></g>
<g id="n717"><circle cx="771" cy="765" r="6.5"/></g>
<g id="n718"><circle cx="825" cy="783" r="6.5"/></g>
<g id="n719"><circle cx="870" cy="770" r="6.5"/></g>
<g id="n720"><circle cx="885" cy="780" r="6.5"/></g>
<g id="n721"><circle cx="926" cy="771" r="6.5"/></g>
<g id="n722"><circle cx="961" cy="768" r="6.5"/></g>
<g id="n723"><circle cx="993" cy="771" r="6.5"/></g>
<g id="n724"><circle cx="1036" cy="780" r="6.5"/></g>
<g id="n725"><circle cx="1084" cy="768" r="6.5"/></g>
<g id="n726"><circle cx="1116" cy="766" r="6.5"/></g>
<g id="n727"><circle cx="1140" cy="778" r="6.5"/></g>
<g id="n728"><circle cx="1189" cy="783" r="6.5"/></g>
<g id="n729"><circle cx="1219" cy="764" r="6.5"/></g>
<g id="n730"><circle cx="1269" cy="767" r="6.5"/></g>
<g id="n731"><circle cx="1286" cy="773" r="6.5"/></g>
<g id="n732"><circle cx="1314" cy="776" r="6.5"/></g>
<g id="n733"><circle cx="1371" cy="764" r="6.5"/></g>
<g id="n734"><circle cx="1380" cy="777" r="6.5"/></g>
<g id="n735"><circle cx="794" cy="791" r="6.5"/></g>
<g id="n736"><circle cx="843" cy="787" r="6.5"/></g>
<g id="n737"><circle cx="854" cy="805" r="6.5"/></g>
<g id="n738"><circle cx="897" cy="786" r="6.5"/></g>
<g id="n739"><circle cx="928" cy="791" r="6.5"/></g>
<g id="n740"><circle cx="958" cy="790" r="6.5"/></g>
<g id="n741"><circle cx="1016" cy="786" r="6.5"/></g>
<g id="n742"><circle cx="1029" cy="804" r="6.5"/></g>
<g id="n743"><circle cx="1091" cy="803" r="6.5"/></g>
<g id="n744"><circle cx="1107" cy="797" r="6.5"/></g>
<g id="n745"><circle cx="1143" cy="804" r="6.5"/></g>
<g id="n746"><circle cx="1185" cy="800" r="6.5"/></g>
<g id="n747"><circle cx="1218" cy="787" r="6.5"/></g>
<g id="n748"><circle cx="1262" cy="795" r="6.5"/></g>
<g id="n749"><circle cx="1294" cy="807" r="6.5"/></g>
<g id="n750"><circle cx="1320" cy="798" r="6.5"/></g>
<g id="n751"><circle cx="1374" cy="792" r="6.5"/></g>
<g id="n752"><circle cx="1405" cy="797" r="6.5"/></g>
<g id="n753"><circle cx="811" cy="817" r="6.5"/></g>
<g id="n754"><circle cx="835" cy="814" r="6.5"/></g>
<g id="n755"><circle cx="860" cy="811" r="6.5"/></g>
<g id="n756"><circle cx="891" cy="818" r="6.5"/></g>
<g id="n757"><circle cx="930" cy="827" r="6.5"/></g>
<g id="n758"><circle cx="962" cy="814" r="6.5"/></g>
<g id="n759"><circle cx="1029" cy="829" r="6.5"/></g>
<g id="n760"><circle cx="1038" cy="813" r="6.5"/></g>
<g id="n761"><circle cx="1091" cy="821" r="6.5"/></g>
<g id="n762"><circle cx="1122" cy="823" r="6.5"/></g>
<g id="n763"><circle cx="1176" cy="813" r="6.5"/></g>
<g id="n764"><circle cx="1197" cy="828" r="6.5"/></g>
<g id="n765"><circle cx="1215" cy="829" r="6.5"/></g>
<g id="n766"><circle cx="1285" cy="827" r="6.5"/></g>
<g id="n767"><circle cx="1296" cy="818" r="6.5"/></g>
<g id="n768"><circle cx="1325" cy="827" r="6.5"/></g>
<g id="n769"><circle cx="1382" cy="825" r="6.5"/></g>
<g id="n770"><circle cx="807" cy="845" r="6.5"/></g>
<g id="n771"><circle cx="853" cy="841" r="6.5"/></g>
<g id="n772"><circle cx="884" cy="837" r="6.5"/></g>
<g id="n773"><circle cx="920" cy="844" r="6.5"/></g>
<g id="n774"><circle cx="952" cy="836" r="6.5"/></g>
<g id="n775"><circle cx="1003" cy="851" r="6.5"/></g>
<g id="n776"><circle cx="1034" cy="838" r="6.5"/></g>
<g id="n777"><circle cx="1051" cy="837" r="6.5"/></g>
<g id="n778"><circle cx="1115" cy="831" r="6.5"/></g>
<g id="n779"><circle cx="1135" cy="852" r="6.5"/></g>
<g id="n780"><circle cx="1186" cy="846" r="6.5"/></g>
<g id="n781"><circle cx="1224" cy="846" r="6.5"/></g>
<g id="n782"><circle cx="1249" cy="839" r="6.5"/></g>
<g id="n783"><circle cx="1294" cy="839" r="6.5"/></g>
<g id="n784"><circle cx="1315" cy="833" r="6.5"/></g>
<g id="n785"><circle cx="1344" cy="841" r="6.5"/></g>
<g id="n786"><circle cx="844" cy="869" r="6.5"/></g>
<g id="n787"><circle cx="865" cy="857" r="6.5"/></g>
<g id="n788"><circle cx="889" cy="862" r="6.5"/></g>
<g id="n789"><circle cx="924" cy="860" r="6.5"/></g>
<g id="n790"><circle cx="964" cy="865" r="6.5"/></g>
<g id="n791"><circle cx="1021" cy="857" r="6.5"/></g>
<g id="n792"><circle cx="1047" cy="871" r="6.5"/></g>
<g id="n793"><circle cx="1067" cy="874" r="6.5"/></g>
<g id="n794"><circle cx="1105" cy="869" r="6.5"/></g>
<g id="n795"><circle cx="1159" cy="861" r="6.5"/></g>
<g id="n796"><circle cx="1181" cy="874" r="6.5"/></g>
<g id="n797"><circle cx="1240" cy="865" r="6.5"/></g>
<g id="n798"><circle cx="1250" cy="866" r="6.5"/></g>
<g id="n799"><circle cx="1318" cy="859" r="6.5"/></g>
<g id="n800"><circle cx="870" cy="878" r="6.5"/></g>
<g id="n801"><circle cx="910" cy="878" r="6.5"/></g>
<g id="n802"><circle cx="958" cy="887" r="6.5"/></g>
<g id="n803"><circle cx="991" cy="881" r="6.5"/></g>
<g id="n804"><circle cx="1032" cy="879" r="6.5"/></g>
<g id="n805"><circle cx="1061" cy="887" r="6.5"/></g>
<g id="n806"><circle cx="1098" cy="875" r="6.5"/></g>
<g id="n807"><circle cx="1117" cy="874" r="6.5"/></g>
<g id="n808"><circle cx="1167" cy="878" r="6.5"/></g>
<g id="n809"><circle cx="1201" cy="875" r="6.5"/></g>
<g id="n810"><circle cx="1221" cy="885" r="6.5"/></g>
<g id="n811"><circle cx="1019" cy="437" r="6.5"/></g>
<g id="n812"><circle cx="1080" cy="432" r="6.5"/></g>
<g id="n813"><circle cx="1135" cy="436" r="6.5"/></g>
<g id="n814"><circle cx="1194" cy="433" r="6.5"/></g>
<g id="n815"><circle cx="1264" cy="437" r="6.5"/></g>
</g>
</svg>
